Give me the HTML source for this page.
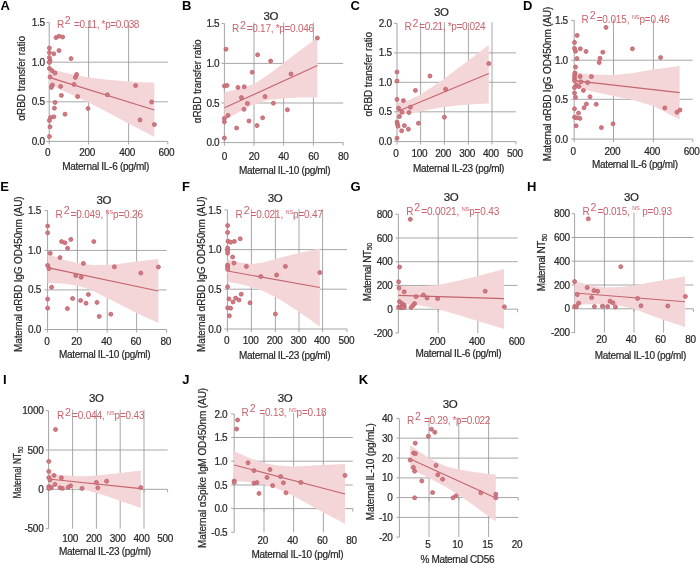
<!DOCTYPE html>
<html><head><meta charset="utf-8"><title>Figure</title>
<style>
html,body{margin:0;padding:0;background:#fff;}
body{width:700px;height:563px;overflow:hidden;}
svg{display:block;font-family:"Liberation Sans",sans-serif;filter:blur(0.35px);}
</style></head><body>
<svg width="700" height="563" viewBox="0 0 700 563">
<rect width="700" height="563" fill="#fff"/>
<line x1="49.2" y1="62.2" x2="167.8" y2="62.2" stroke="#979797" stroke-width="0.85"/>
<line x1="49.2" y1="101.8" x2="167.8" y2="101.8" stroke="#979797" stroke-width="0.85"/>
<line x1="88.6" y1="21.6" x2="88.6" y2="141.4" stroke="#979797" stroke-width="0.85"/>
<line x1="128.6" y1="21.6" x2="128.6" y2="141.4" stroke="#979797" stroke-width="0.85"/>
<line x1="49.2" y1="22.6" x2="49.2" y2="141.4" stroke="#A4A4A4" stroke-width="1"/>
<line x1="49.2" y1="141.4" x2="167.8" y2="141.4" stroke="#A4A4A4" stroke-width="1"/>
<line x1="49.2" y1="141.4" x2="49.2" y2="144.4" stroke="#A4A4A4" stroke-width="1"/>
<line x1="88.6" y1="141.4" x2="88.6" y2="144.4" stroke="#A4A4A4" stroke-width="1"/>
<line x1="128.6" y1="141.4" x2="128.6" y2="144.4" stroke="#A4A4A4" stroke-width="1"/>
<line x1="167.8" y1="141.4" x2="167.8" y2="144.4" stroke="#A4A4A4" stroke-width="1"/>
<polygon points="49.2,68.6 60.0,71.6 75.0,75.0 88.6,77.4 108.0,79.8 128.6,81.6 154.4,82.8 154.4,137.0 128.6,123.4 108.0,112.5 88.6,102.4 75.0,96.0 60.0,89.5 49.2,84.0" fill="#F4D6D8"/>
<line x1="46.2" y1="22.6" x2="49.2" y2="22.6" stroke="#A4A4A4" stroke-width="1"/>
<text transform="translate(44.80,26.15) scale(1.0,1)" font-size="10.0" text-anchor="end" fill="#262626" stroke="#262626" stroke-width="0.2" font-weight="normal" letter-spacing="-0.3">1.5</text>
<line x1="46.2" y1="62.2" x2="49.2" y2="62.2" stroke="#A4A4A4" stroke-width="1"/>
<text transform="translate(44.80,65.75) scale(1.0,1)" font-size="10.0" text-anchor="end" fill="#262626" stroke="#262626" stroke-width="0.2" font-weight="normal" letter-spacing="-0.3">1.0</text>
<line x1="46.2" y1="101.8" x2="49.2" y2="101.8" stroke="#A4A4A4" stroke-width="1"/>
<text transform="translate(44.80,105.35) scale(1.0,1)" font-size="10.0" text-anchor="end" fill="#262626" stroke="#262626" stroke-width="0.2" font-weight="normal" letter-spacing="-0.3">0.5</text>
<line x1="46.2" y1="141.4" x2="49.2" y2="141.4" stroke="#A4A4A4" stroke-width="1"/>
<text transform="translate(44.80,144.95) scale(1.0,1)" font-size="10.0" text-anchor="end" fill="#262626" stroke="#262626" stroke-width="0.2" font-weight="normal" letter-spacing="-0.3">0.0</text>
<text transform="translate(47.70,156.20) scale(1.0,1)" font-size="10.0" text-anchor="middle" fill="#262626" stroke="#262626" stroke-width="0.2" font-weight="normal" letter-spacing="-0.3">0</text>
<text transform="translate(87.10,156.20) scale(1.0,1)" font-size="10.0" text-anchor="middle" fill="#262626" stroke="#262626" stroke-width="0.2" font-weight="normal" letter-spacing="-0.3">200</text>
<text transform="translate(127.10,156.20) scale(1.0,1)" font-size="10.0" text-anchor="middle" fill="#262626" stroke="#262626" stroke-width="0.2" font-weight="normal" letter-spacing="-0.3">400</text>
<text transform="translate(166.30,156.20) scale(1.0,1)" font-size="10.0" text-anchor="middle" fill="#262626" stroke="#262626" stroke-width="0.2" font-weight="normal" letter-spacing="-0.3">600</text>
<line x1="49.2" y1="77.4" x2="154.4" y2="110" stroke="#C5646D" stroke-width="1.1"/>
<circle cx="56.0" cy="37.6" r="2.0" fill="#D07A84" stroke="#BE5F6A" stroke-width="0.8"/>
<circle cx="59.0" cy="36.2" r="2.0" fill="#D07A84" stroke="#BE5F6A" stroke-width="0.8"/>
<circle cx="62.6" cy="37.0" r="2.0" fill="#D07A84" stroke="#BE5F6A" stroke-width="0.8"/>
<circle cx="49.4" cy="48.0" r="2.0" fill="#D07A84" stroke="#BE5F6A" stroke-width="0.8"/>
<circle cx="49.4" cy="52.6" r="2.0" fill="#D07A84" stroke="#BE5F6A" stroke-width="0.8"/>
<circle cx="53.8" cy="53.8" r="2.0" fill="#D07A84" stroke="#BE5F6A" stroke-width="0.8"/>
<circle cx="59.0" cy="50.6" r="2.0" fill="#D07A84" stroke="#BE5F6A" stroke-width="0.8"/>
<circle cx="71.0" cy="58.6" r="2.0" fill="#D07A84" stroke="#BE5F6A" stroke-width="0.8"/>
<circle cx="49.4" cy="57.6" r="2.0" fill="#D07A84" stroke="#BE5F6A" stroke-width="0.8"/>
<circle cx="50.0" cy="60.6" r="2.0" fill="#D07A84" stroke="#BE5F6A" stroke-width="0.8"/>
<circle cx="49.4" cy="62.4" r="2.0" fill="#D07A84" stroke="#BE5F6A" stroke-width="0.8"/>
<circle cx="49.4" cy="68.4" r="2.0" fill="#D07A84" stroke="#BE5F6A" stroke-width="0.8"/>
<circle cx="52.0" cy="70.6" r="2.0" fill="#D07A84" stroke="#BE5F6A" stroke-width="0.8"/>
<circle cx="55.0" cy="73.0" r="2.0" fill="#D07A84" stroke="#BE5F6A" stroke-width="0.8"/>
<circle cx="50.0" cy="77.0" r="2.0" fill="#D07A84" stroke="#BE5F6A" stroke-width="0.8"/>
<circle cx="76.6" cy="74.4" r="2.0" fill="#D07A84" stroke="#BE5F6A" stroke-width="0.8"/>
<circle cx="75.4" cy="77.4" r="2.0" fill="#D07A84" stroke="#BE5F6A" stroke-width="0.8"/>
<circle cx="74.0" cy="84.4" r="2.0" fill="#D07A84" stroke="#BE5F6A" stroke-width="0.8"/>
<circle cx="52.4" cy="85.0" r="2.0" fill="#D07A84" stroke="#BE5F6A" stroke-width="0.8"/>
<circle cx="51.4" cy="87.4" r="2.0" fill="#D07A84" stroke="#BE5F6A" stroke-width="0.8"/>
<circle cx="60.6" cy="86.4" r="2.0" fill="#D07A84" stroke="#BE5F6A" stroke-width="0.8"/>
<circle cx="61.4" cy="95.4" r="2.0" fill="#D07A84" stroke="#BE5F6A" stroke-width="0.8"/>
<circle cx="77.6" cy="96.6" r="2.0" fill="#D07A84" stroke="#BE5F6A" stroke-width="0.8"/>
<circle cx="107.4" cy="94.8" r="2.0" fill="#D07A84" stroke="#BE5F6A" stroke-width="0.8"/>
<circle cx="135.6" cy="85.6" r="2.0" fill="#D07A84" stroke="#BE5F6A" stroke-width="0.8"/>
<circle cx="151.6" cy="102.0" r="2.0" fill="#D07A84" stroke="#BE5F6A" stroke-width="0.8"/>
<circle cx="55.0" cy="102.4" r="2.0" fill="#D07A84" stroke="#BE5F6A" stroke-width="0.8"/>
<circle cx="54.4" cy="108.2" r="2.0" fill="#D07A84" stroke="#BE5F6A" stroke-width="0.8"/>
<circle cx="88.0" cy="108.5" r="2.0" fill="#D07A84" stroke="#BE5F6A" stroke-width="0.8"/>
<circle cx="65.0" cy="114.2" r="2.0" fill="#D07A84" stroke="#BE5F6A" stroke-width="0.8"/>
<circle cx="53.8" cy="116.8" r="2.0" fill="#D07A84" stroke="#BE5F6A" stroke-width="0.8"/>
<circle cx="50.6" cy="117.5" r="2.0" fill="#D07A84" stroke="#BE5F6A" stroke-width="0.8"/>
<circle cx="49.4" cy="120.5" r="2.0" fill="#D07A84" stroke="#BE5F6A" stroke-width="0.8"/>
<circle cx="140.0" cy="119.9" r="2.0" fill="#D07A84" stroke="#BE5F6A" stroke-width="0.8"/>
<circle cx="154.4" cy="124.5" r="2.0" fill="#D07A84" stroke="#BE5F6A" stroke-width="0.8"/>
<circle cx="50.0" cy="126.8" r="2.0" fill="#D07A84" stroke="#BE5F6A" stroke-width="0.8"/>
<circle cx="49.4" cy="136.6" r="2.0" fill="#D07A84" stroke="#BE5F6A" stroke-width="0.8"/>
<text x="57" y="27.5" font-size="10.0" fill="#C9626B" textLength="82.4" lengthAdjust="spacing">R<tspan dy="-3.7" dx="1.0" font-size="10.6">2</tspan><tspan dy="3.7" dx="1.2">&#160;=0.11,&#160;</tspan>*p=0.038</text>
<text x="105.8" y="170.40" font-size="10.0" text-anchor="middle" fill="#262626" stroke="#262626" stroke-width="0.2" textLength="87" lengthAdjust="spacing">Maternal IL-6 (pg/ml)</text>
<text transform="translate(25.00,78.30) rotate(-90)" font-size="10.0" text-anchor="middle" fill="#262626" stroke="#262626" stroke-width="0.2" textLength="84.7" lengthAdjust="spacing">αRBD transfer ratio</text>
<text x="0.6" y="9.8" font-size="13" font-weight="bold" fill="#000">A</text>
<line x1="224.4" y1="63.4" x2="343.2" y2="63.4" stroke="#979797" stroke-width="0.85"/>
<line x1="224.4" y1="103" x2="343.2" y2="103" stroke="#979797" stroke-width="0.85"/>
<line x1="254" y1="22.6" x2="254" y2="142.6" stroke="#979797" stroke-width="0.85"/>
<line x1="283.6" y1="22.6" x2="283.6" y2="142.6" stroke="#979797" stroke-width="0.85"/>
<line x1="313.4" y1="22.6" x2="313.4" y2="142.6" stroke="#979797" stroke-width="0.85"/>
<line x1="224.4" y1="23.6" x2="224.4" y2="142.6" stroke="#A4A4A4" stroke-width="1"/>
<line x1="224.4" y1="142.6" x2="343.2" y2="142.6" stroke="#A4A4A4" stroke-width="1"/>
<line x1="224.4" y1="142.6" x2="224.4" y2="145.6" stroke="#A4A4A4" stroke-width="1"/>
<line x1="254" y1="142.6" x2="254" y2="145.6" stroke="#A4A4A4" stroke-width="1"/>
<line x1="283.6" y1="142.6" x2="283.6" y2="145.6" stroke="#A4A4A4" stroke-width="1"/>
<line x1="313.4" y1="142.6" x2="313.4" y2="145.6" stroke="#A4A4A4" stroke-width="1"/>
<line x1="343.2" y1="142.6" x2="343.2" y2="145.6" stroke="#A4A4A4" stroke-width="1"/>
<polygon points="224.4,92.4 240.0,88.5 254.0,84.0 268.0,75.0 283.6,63.0 300.0,50.5 317.4,37.6 317.4,97.4 300.0,97.6 283.6,98.4 268.0,100.0 254.0,104.5 240.0,111.5 224.4,120.0" fill="#F4D6D8"/>
<line x1="221.4" y1="23.6" x2="224.4" y2="23.6" stroke="#A4A4A4" stroke-width="1"/>
<text transform="translate(219.40,27.15) scale(1.0,1)" font-size="10.0" text-anchor="end" fill="#262626" stroke="#262626" stroke-width="0.2" font-weight="normal" letter-spacing="-0.3">1.5</text>
<line x1="221.4" y1="63.4" x2="224.4" y2="63.4" stroke="#A4A4A4" stroke-width="1"/>
<text transform="translate(219.40,66.95) scale(1.0,1)" font-size="10.0" text-anchor="end" fill="#262626" stroke="#262626" stroke-width="0.2" font-weight="normal" letter-spacing="-0.3">1.0</text>
<line x1="221.4" y1="103" x2="224.4" y2="103" stroke="#A4A4A4" stroke-width="1"/>
<text transform="translate(219.40,106.55) scale(1.0,1)" font-size="10.0" text-anchor="end" fill="#262626" stroke="#262626" stroke-width="0.2" font-weight="normal" letter-spacing="-0.3">0.5</text>
<line x1="221.4" y1="142.6" x2="224.4" y2="142.6" stroke="#A4A4A4" stroke-width="1"/>
<text transform="translate(219.40,146.15) scale(1.0,1)" font-size="10.0" text-anchor="end" fill="#262626" stroke="#262626" stroke-width="0.2" font-weight="normal" letter-spacing="-0.3">0.0</text>
<text transform="translate(224.40,159.50) scale(1.0,1)" font-size="10.0" text-anchor="middle" fill="#262626" stroke="#262626" stroke-width="0.2" font-weight="normal" letter-spacing="-0.3">0</text>
<text transform="translate(254.00,159.50) scale(1.0,1)" font-size="10.0" text-anchor="middle" fill="#262626" stroke="#262626" stroke-width="0.2" font-weight="normal" letter-spacing="-0.3">20</text>
<text transform="translate(283.60,159.50) scale(1.0,1)" font-size="10.0" text-anchor="middle" fill="#262626" stroke="#262626" stroke-width="0.2" font-weight="normal" letter-spacing="-0.3">40</text>
<text transform="translate(313.40,159.50) scale(1.0,1)" font-size="10.0" text-anchor="middle" fill="#262626" stroke="#262626" stroke-width="0.2" font-weight="normal" letter-spacing="-0.3">60</text>
<text transform="translate(343.20,159.50) scale(1.0,1)" font-size="10.0" text-anchor="middle" fill="#262626" stroke="#262626" stroke-width="0.2" font-weight="normal" letter-spacing="-0.3">80</text>
<line x1="224.4" y1="107.8" x2="317.4" y2="65.6" stroke="#C5646D" stroke-width="1.1"/>
<circle cx="317.4" cy="38.0" r="2.0" fill="#D07A84" stroke="#BE5F6A" stroke-width="0.8"/>
<circle cx="226.0" cy="49.2" r="2.0" fill="#D07A84" stroke="#BE5F6A" stroke-width="0.8"/>
<circle cx="257.6" cy="54.8" r="2.0" fill="#D07A84" stroke="#BE5F6A" stroke-width="0.8"/>
<circle cx="270.6" cy="61.0" r="2.0" fill="#D07A84" stroke="#BE5F6A" stroke-width="0.8"/>
<circle cx="252.2" cy="72.2" r="2.0" fill="#D07A84" stroke="#BE5F6A" stroke-width="0.8"/>
<circle cx="291.0" cy="74.0" r="2.0" fill="#D07A84" stroke="#BE5F6A" stroke-width="0.8"/>
<circle cx="224.4" cy="86.0" r="2.0" fill="#D07A84" stroke="#BE5F6A" stroke-width="0.8"/>
<circle cx="227.0" cy="85.4" r="2.0" fill="#D07A84" stroke="#BE5F6A" stroke-width="0.8"/>
<circle cx="238.0" cy="87.4" r="2.0" fill="#D07A84" stroke="#BE5F6A" stroke-width="0.8"/>
<circle cx="244.2" cy="86.8" r="2.0" fill="#D07A84" stroke="#BE5F6A" stroke-width="0.8"/>
<circle cx="241.4" cy="97.6" r="2.0" fill="#D07A84" stroke="#BE5F6A" stroke-width="0.8"/>
<circle cx="265.0" cy="96.6" r="2.0" fill="#D07A84" stroke="#BE5F6A" stroke-width="0.8"/>
<circle cx="247.4" cy="103.4" r="2.0" fill="#D07A84" stroke="#BE5F6A" stroke-width="0.8"/>
<circle cx="273.4" cy="103.2" r="2.0" fill="#D07A84" stroke="#BE5F6A" stroke-width="0.8"/>
<circle cx="244.0" cy="109.3" r="2.0" fill="#D07A84" stroke="#BE5F6A" stroke-width="0.8"/>
<circle cx="287.4" cy="109.8" r="2.0" fill="#D07A84" stroke="#BE5F6A" stroke-width="0.8"/>
<circle cx="228.0" cy="115.4" r="2.0" fill="#D07A84" stroke="#BE5F6A" stroke-width="0.8"/>
<circle cx="224.4" cy="118.4" r="2.0" fill="#D07A84" stroke="#BE5F6A" stroke-width="0.8"/>
<circle cx="262.6" cy="117.8" r="2.0" fill="#D07A84" stroke="#BE5F6A" stroke-width="0.8"/>
<circle cx="224.4" cy="121.8" r="2.0" fill="#D07A84" stroke="#BE5F6A" stroke-width="0.8"/>
<circle cx="249.0" cy="121.0" r="2.0" fill="#D07A84" stroke="#BE5F6A" stroke-width="0.8"/>
<circle cx="257.0" cy="125.6" r="2.0" fill="#D07A84" stroke="#BE5F6A" stroke-width="0.8"/>
<circle cx="236.6" cy="128.0" r="2.0" fill="#D07A84" stroke="#BE5F6A" stroke-width="0.8"/>
<circle cx="224.4" cy="138.0" r="2.0" fill="#D07A84" stroke="#BE5F6A" stroke-width="0.8"/>
<text transform="translate(270.80,20.00) scale(1.0,1)" font-size="11.5" text-anchor="middle" fill="#262626" stroke="#262626" stroke-width="0.2" font-weight="normal" letter-spacing="-0.3">3O</text>
<text x="232" y="32.4" font-size="10.0" fill="#C9626B" textLength="82.0" lengthAdjust="spacing">R<tspan dy="-3.7" dx="1.0" font-size="10.6">2</tspan><tspan dy="3.7" dx="1.2">=0.17,&#160;</tspan>*p=0.046</text>
<text x="284.8" y="173.90" font-size="10.0" text-anchor="middle" fill="#262626" stroke="#262626" stroke-width="0.2" textLength="91.6" lengthAdjust="spacing">Maternal IL-10 (pg/ml)</text>
<text transform="translate(201.00,81.30) rotate(-90)" font-size="10.0" text-anchor="middle" fill="#262626" stroke="#262626" stroke-width="0.2" textLength="83.8" lengthAdjust="spacing">αRBD transfer ratio</text>
<text x="182" y="10" font-size="13" font-weight="bold" fill="#000">B</text>
<line x1="397" y1="52.9" x2="516" y2="52.9" stroke="#979797" stroke-width="0.85"/>
<line x1="397" y1="82.3" x2="516" y2="82.3" stroke="#979797" stroke-width="0.85"/>
<line x1="397" y1="111.8" x2="516" y2="111.8" stroke="#979797" stroke-width="0.85"/>
<line x1="420.6" y1="22.4" x2="420.6" y2="141.6" stroke="#979797" stroke-width="0.85"/>
<line x1="444.4" y1="22.4" x2="444.4" y2="141.6" stroke="#979797" stroke-width="0.85"/>
<line x1="468.4" y1="22.4" x2="468.4" y2="141.6" stroke="#979797" stroke-width="0.85"/>
<line x1="492" y1="22.4" x2="492" y2="141.6" stroke="#979797" stroke-width="0.85"/>
<line x1="397" y1="23.4" x2="397" y2="141.6" stroke="#A4A4A4" stroke-width="1"/>
<line x1="397" y1="141.6" x2="516" y2="141.6" stroke="#A4A4A4" stroke-width="1"/>
<line x1="397" y1="141.6" x2="397" y2="144.6" stroke="#A4A4A4" stroke-width="1"/>
<line x1="420.6" y1="141.6" x2="420.6" y2="144.6" stroke="#A4A4A4" stroke-width="1"/>
<line x1="444.4" y1="141.6" x2="444.4" y2="144.6" stroke="#A4A4A4" stroke-width="1"/>
<line x1="468.4" y1="141.6" x2="468.4" y2="144.6" stroke="#A4A4A4" stroke-width="1"/>
<line x1="492" y1="141.6" x2="492" y2="144.6" stroke="#A4A4A4" stroke-width="1"/>
<line x1="516" y1="141.6" x2="516" y2="144.6" stroke="#A4A4A4" stroke-width="1"/>
<polygon points="397.3,102.5 408.0,100.5 420.6,94.5 432.0,87.0 444.4,78.6 468.4,60.5 488.8,45.0 488.8,103.4 468.4,104.4 444.4,107.0 432.0,109.0 420.6,111.4 408.0,113.6 397.3,116.0" fill="#F4D6D8"/>
<line x1="394" y1="23.4" x2="397" y2="23.4" stroke="#A4A4A4" stroke-width="1"/>
<text transform="translate(391.80,26.95) scale(1.0,1)" font-size="10.0" text-anchor="end" fill="#262626" stroke="#262626" stroke-width="0.2" font-weight="normal" letter-spacing="-0.3">2.0</text>
<line x1="394" y1="52.9" x2="397" y2="52.9" stroke="#A4A4A4" stroke-width="1"/>
<text transform="translate(391.80,56.45) scale(1.0,1)" font-size="10.0" text-anchor="end" fill="#262626" stroke="#262626" stroke-width="0.2" font-weight="normal" letter-spacing="-0.3">1.5</text>
<line x1="394" y1="82.3" x2="397" y2="82.3" stroke="#A4A4A4" stroke-width="1"/>
<text transform="translate(391.80,85.85) scale(1.0,1)" font-size="10.0" text-anchor="end" fill="#262626" stroke="#262626" stroke-width="0.2" font-weight="normal" letter-spacing="-0.3">1.0</text>
<line x1="394" y1="111.8" x2="397" y2="111.8" stroke="#A4A4A4" stroke-width="1"/>
<text transform="translate(391.80,115.35) scale(1.0,1)" font-size="10.0" text-anchor="end" fill="#262626" stroke="#262626" stroke-width="0.2" font-weight="normal" letter-spacing="-0.3">0.5</text>
<line x1="394" y1="141.3" x2="397" y2="141.3" stroke="#A4A4A4" stroke-width="1"/>
<text transform="translate(391.80,144.85) scale(1.0,1)" font-size="10.0" text-anchor="end" fill="#262626" stroke="#262626" stroke-width="0.2" font-weight="normal" letter-spacing="-0.3">0.0</text>
<text transform="translate(395.80,156.50) scale(1.0,1)" font-size="10.0" text-anchor="middle" fill="#262626" stroke="#262626" stroke-width="0.2" font-weight="normal" letter-spacing="-0.3">0</text>
<text transform="translate(419.40,156.50) scale(1.0,1)" font-size="10.0" text-anchor="middle" fill="#262626" stroke="#262626" stroke-width="0.2" font-weight="normal" letter-spacing="-0.3">100</text>
<text transform="translate(443.20,156.50) scale(1.0,1)" font-size="10.0" text-anchor="middle" fill="#262626" stroke="#262626" stroke-width="0.2" font-weight="normal" letter-spacing="-0.3">200</text>
<text transform="translate(467.20,156.50) scale(1.0,1)" font-size="10.0" text-anchor="middle" fill="#262626" stroke="#262626" stroke-width="0.2" font-weight="normal" letter-spacing="-0.3">300</text>
<text transform="translate(490.80,156.50) scale(1.0,1)" font-size="10.0" text-anchor="middle" fill="#262626" stroke="#262626" stroke-width="0.2" font-weight="normal" letter-spacing="-0.3">400</text>
<text transform="translate(514.80,156.50) scale(1.0,1)" font-size="10.0" text-anchor="middle" fill="#262626" stroke="#262626" stroke-width="0.2" font-weight="normal" letter-spacing="-0.3">500</text>
<line x1="397.3" y1="111.6" x2="488.8" y2="73.6" stroke="#C5646D" stroke-width="1.1"/>
<circle cx="488.8" cy="63.6" r="2.0" fill="#D07A84" stroke="#BE5F6A" stroke-width="0.8"/>
<circle cx="397.0" cy="72.0" r="2.0" fill="#D07A84" stroke="#BE5F6A" stroke-width="0.8"/>
<circle cx="430.0" cy="76.0" r="2.0" fill="#D07A84" stroke="#BE5F6A" stroke-width="0.8"/>
<circle cx="397.0" cy="81.0" r="2.0" fill="#D07A84" stroke="#BE5F6A" stroke-width="0.8"/>
<circle cx="415.4" cy="90.4" r="2.0" fill="#D07A84" stroke="#BE5F6A" stroke-width="0.8"/>
<circle cx="445.6" cy="89.2" r="2.0" fill="#D07A84" stroke="#BE5F6A" stroke-width="0.8"/>
<circle cx="397.0" cy="99.4" r="2.0" fill="#D07A84" stroke="#BE5F6A" stroke-width="0.8"/>
<circle cx="403.4" cy="100.6" r="2.0" fill="#D07A84" stroke="#BE5F6A" stroke-width="0.8"/>
<circle cx="398.6" cy="108.2" r="2.0" fill="#D07A84" stroke="#BE5F6A" stroke-width="0.8"/>
<circle cx="410.4" cy="107.2" r="2.0" fill="#D07A84" stroke="#BE5F6A" stroke-width="0.8"/>
<circle cx="402.0" cy="112.2" r="2.0" fill="#D07A84" stroke="#BE5F6A" stroke-width="0.8"/>
<circle cx="409.0" cy="112.6" r="2.0" fill="#D07A84" stroke="#BE5F6A" stroke-width="0.8"/>
<circle cx="399.4" cy="116.6" r="2.0" fill="#D07A84" stroke="#BE5F6A" stroke-width="0.8"/>
<circle cx="444.4" cy="117.2" r="2.0" fill="#D07A84" stroke="#BE5F6A" stroke-width="0.8"/>
<circle cx="397.0" cy="122.0" r="2.0" fill="#D07A84" stroke="#BE5F6A" stroke-width="0.8"/>
<circle cx="397.4" cy="124.0" r="2.0" fill="#D07A84" stroke="#BE5F6A" stroke-width="0.8"/>
<circle cx="398.0" cy="126.2" r="2.0" fill="#D07A84" stroke="#BE5F6A" stroke-width="0.8"/>
<circle cx="404.4" cy="125.6" r="2.0" fill="#D07A84" stroke="#BE5F6A" stroke-width="0.8"/>
<circle cx="418.4" cy="123.2" r="2.0" fill="#D07A84" stroke="#BE5F6A" stroke-width="0.8"/>
<circle cx="401.6" cy="130.8" r="2.0" fill="#D07A84" stroke="#BE5F6A" stroke-width="0.8"/>
<circle cx="408.4" cy="129.2" r="2.0" fill="#D07A84" stroke="#BE5F6A" stroke-width="0.8"/>
<circle cx="397.0" cy="138.2" r="2.0" fill="#D07A84" stroke="#BE5F6A" stroke-width="0.8"/>
<text transform="translate(441.30,15.50) scale(1.0,1)" font-size="11.5" text-anchor="middle" fill="#262626" stroke="#262626" stroke-width="0.2" font-weight="normal" letter-spacing="-0.3">3O</text>
<text x="404.6" y="30.4" font-size="10.0" fill="#C9626B" textLength="81.0" lengthAdjust="spacing">R<tspan dy="-3.7" dx="1.0" font-size="10.6">2</tspan><tspan dy="3.7" dx="1.2">=0.21,&#160;</tspan>*p=0.024</text>
<text x="458.7" y="172.40" font-size="10.0" text-anchor="middle" fill="#262626" stroke="#262626" stroke-width="0.2" textLength="91.4" lengthAdjust="spacing">Maternal IL-23 (pg/ml)</text>
<text transform="translate(372.40,74.20) rotate(-90)" font-size="10.0" text-anchor="middle" fill="#262626" stroke="#262626" stroke-width="0.2" textLength="84.6" lengthAdjust="spacing">αRBD transfer ratio</text>
<text x="350.4" y="10.2" font-size="13" font-weight="bold" fill="#000">C</text>
<line x1="574.2" y1="60.2" x2="692.8" y2="60.2" stroke="#979797" stroke-width="0.85"/>
<line x1="574.2" y1="99.3" x2="692.8" y2="99.3" stroke="#979797" stroke-width="0.85"/>
<line x1="613.5" y1="19.4" x2="613.5" y2="139.1" stroke="#979797" stroke-width="0.85"/>
<line x1="653.4" y1="19.4" x2="653.4" y2="139.1" stroke="#979797" stroke-width="0.85"/>
<line x1="574.2" y1="20.4" x2="574.2" y2="139.1" stroke="#A4A4A4" stroke-width="1"/>
<line x1="574.2" y1="139.1" x2="692.8" y2="139.1" stroke="#A4A4A4" stroke-width="1"/>
<line x1="574.2" y1="139.1" x2="574.2" y2="142.1" stroke="#A4A4A4" stroke-width="1"/>
<line x1="613.5" y1="139.1" x2="613.5" y2="142.1" stroke="#A4A4A4" stroke-width="1"/>
<line x1="653.4" y1="139.1" x2="653.4" y2="142.1" stroke="#A4A4A4" stroke-width="1"/>
<line x1="692.8" y1="139.1" x2="692.8" y2="142.1" stroke="#A4A4A4" stroke-width="1"/>
<polygon points="574.2,72.0 590.0,74.6 613.4,75.0 633.0,73.0 653.4,69.4 679.6,66.0 679.6,119.4 653.4,106.0 633.0,100.0 613.4,96.0 590.0,91.0 574.2,86.6" fill="#F4D6D8"/>
<line x1="571.2" y1="20.4" x2="574.2" y2="20.4" stroke="#A4A4A4" stroke-width="1"/>
<text transform="translate(567.90,23.95) scale(1.0,1)" font-size="10.0" text-anchor="end" fill="#262626" stroke="#262626" stroke-width="0.2" font-weight="normal" letter-spacing="-0.3">1.5</text>
<line x1="571.2" y1="60.2" x2="574.2" y2="60.2" stroke="#A4A4A4" stroke-width="1"/>
<text transform="translate(567.90,63.75) scale(1.0,1)" font-size="10.0" text-anchor="end" fill="#262626" stroke="#262626" stroke-width="0.2" font-weight="normal" letter-spacing="-0.3">1.0</text>
<line x1="571.2" y1="99.3" x2="574.2" y2="99.3" stroke="#A4A4A4" stroke-width="1"/>
<text transform="translate(567.90,102.85) scale(1.0,1)" font-size="10.0" text-anchor="end" fill="#262626" stroke="#262626" stroke-width="0.2" font-weight="normal" letter-spacing="-0.3">0.5</text>
<line x1="571.2" y1="139" x2="574.2" y2="139" stroke="#A4A4A4" stroke-width="1"/>
<text transform="translate(567.90,142.55) scale(1.0,1)" font-size="10.0" text-anchor="end" fill="#262626" stroke="#262626" stroke-width="0.2" font-weight="normal" letter-spacing="-0.3">0.0</text>
<text transform="translate(573.00,154.50) scale(1.0,1)" font-size="10.0" text-anchor="middle" fill="#262626" stroke="#262626" stroke-width="0.2" font-weight="normal" letter-spacing="-0.3">0</text>
<text transform="translate(612.30,154.50) scale(1.0,1)" font-size="10.0" text-anchor="middle" fill="#262626" stroke="#262626" stroke-width="0.2" font-weight="normal" letter-spacing="-0.3">200</text>
<text transform="translate(652.20,154.50) scale(1.0,1)" font-size="10.0" text-anchor="middle" fill="#262626" stroke="#262626" stroke-width="0.2" font-weight="normal" letter-spacing="-0.3">400</text>
<text transform="translate(691.60,154.50) scale(1.0,1)" font-size="10.0" text-anchor="middle" fill="#262626" stroke="#262626" stroke-width="0.2" font-weight="normal" letter-spacing="-0.3">600</text>
<line x1="574.2" y1="80.6" x2="679.6" y2="92.6" stroke="#C5646D" stroke-width="1.1"/>
<circle cx="606.0" cy="27.4" r="2.0" fill="#D07A84" stroke="#BE5F6A" stroke-width="0.8"/>
<circle cx="577.1" cy="35.4" r="2.0" fill="#D07A84" stroke="#BE5F6A" stroke-width="0.8"/>
<circle cx="574.5" cy="42.4" r="2.0" fill="#D07A84" stroke="#BE5F6A" stroke-width="0.8"/>
<circle cx="574.5" cy="48.4" r="2.0" fill="#D07A84" stroke="#BE5F6A" stroke-width="0.8"/>
<circle cx="580.3" cy="48.8" r="2.0" fill="#D07A84" stroke="#BE5F6A" stroke-width="0.8"/>
<circle cx="575.5" cy="51.2" r="2.0" fill="#D07A84" stroke="#BE5F6A" stroke-width="0.8"/>
<circle cx="586.0" cy="51.4" r="2.0" fill="#D07A84" stroke="#BE5F6A" stroke-width="0.8"/>
<circle cx="602.8" cy="52.2" r="2.0" fill="#D07A84" stroke="#BE5F6A" stroke-width="0.8"/>
<circle cx="632.4" cy="48.8" r="2.0" fill="#D07A84" stroke="#BE5F6A" stroke-width="0.8"/>
<circle cx="576.9" cy="58.6" r="2.0" fill="#D07A84" stroke="#BE5F6A" stroke-width="0.8"/>
<circle cx="600.0" cy="58.2" r="2.0" fill="#D07A84" stroke="#BE5F6A" stroke-width="0.8"/>
<circle cx="660.6" cy="57.6" r="2.0" fill="#D07A84" stroke="#BE5F6A" stroke-width="0.8"/>
<circle cx="599.2" cy="62.6" r="2.0" fill="#D07A84" stroke="#BE5F6A" stroke-width="0.8"/>
<circle cx="575.5" cy="67.0" r="2.0" fill="#D07A84" stroke="#BE5F6A" stroke-width="0.8"/>
<circle cx="574.9" cy="73.0" r="2.0" fill="#D07A84" stroke="#BE5F6A" stroke-width="0.8"/>
<circle cx="574.5" cy="75.4" r="2.0" fill="#D07A84" stroke="#BE5F6A" stroke-width="0.8"/>
<circle cx="574.5" cy="78.0" r="2.0" fill="#D07A84" stroke="#BE5F6A" stroke-width="0.8"/>
<circle cx="574.5" cy="80.6" r="2.0" fill="#D07A84" stroke="#BE5F6A" stroke-width="0.8"/>
<circle cx="580.1" cy="76.4" r="2.0" fill="#D07A84" stroke="#BE5F6A" stroke-width="0.8"/>
<circle cx="591.4" cy="76.6" r="2.0" fill="#D07A84" stroke="#BE5F6A" stroke-width="0.8"/>
<circle cx="580.9" cy="81.8" r="2.0" fill="#D07A84" stroke="#BE5F6A" stroke-width="0.8"/>
<circle cx="587.6" cy="82.6" r="2.0" fill="#D07A84" stroke="#BE5F6A" stroke-width="0.8"/>
<circle cx="576.5" cy="85.0" r="2.0" fill="#D07A84" stroke="#BE5F6A" stroke-width="0.8"/>
<circle cx="578.9" cy="86.6" r="2.0" fill="#D07A84" stroke="#BE5F6A" stroke-width="0.8"/>
<circle cx="574.5" cy="87.6" r="2.0" fill="#D07A84" stroke="#BE5F6A" stroke-width="0.8"/>
<circle cx="583.4" cy="90.4" r="2.0" fill="#D07A84" stroke="#BE5F6A" stroke-width="0.8"/>
<circle cx="574.5" cy="93.0" r="2.0" fill="#D07A84" stroke="#BE5F6A" stroke-width="0.8"/>
<circle cx="575.5" cy="97.2" r="2.0" fill="#D07A84" stroke="#BE5F6A" stroke-width="0.8"/>
<circle cx="590.0" cy="96.8" r="2.0" fill="#D07A84" stroke="#BE5F6A" stroke-width="0.8"/>
<circle cx="586.4" cy="104.0" r="2.0" fill="#D07A84" stroke="#BE5F6A" stroke-width="0.8"/>
<circle cx="596.2" cy="104.3" r="2.0" fill="#D07A84" stroke="#BE5F6A" stroke-width="0.8"/>
<circle cx="584.0" cy="107.8" r="2.0" fill="#D07A84" stroke="#BE5F6A" stroke-width="0.8"/>
<circle cx="574.5" cy="108.8" r="2.0" fill="#D07A84" stroke="#BE5F6A" stroke-width="0.8"/>
<circle cx="664.8" cy="107.9" r="2.0" fill="#D07A84" stroke="#BE5F6A" stroke-width="0.8"/>
<circle cx="680.0" cy="110.0" r="2.0" fill="#D07A84" stroke="#BE5F6A" stroke-width="0.8"/>
<circle cx="677.0" cy="112.2" r="2.0" fill="#D07A84" stroke="#BE5F6A" stroke-width="0.8"/>
<circle cx="578.5" cy="113.1" r="2.0" fill="#D07A84" stroke="#BE5F6A" stroke-width="0.8"/>
<circle cx="574.5" cy="117.2" r="2.0" fill="#D07A84" stroke="#BE5F6A" stroke-width="0.8"/>
<circle cx="576.5" cy="117.8" r="2.0" fill="#D07A84" stroke="#BE5F6A" stroke-width="0.8"/>
<circle cx="579.9" cy="118.4" r="2.0" fill="#D07A84" stroke="#BE5F6A" stroke-width="0.8"/>
<circle cx="613.0" cy="123.8" r="2.0" fill="#D07A84" stroke="#BE5F6A" stroke-width="0.8"/>
<circle cx="576.1" cy="125.8" r="2.0" fill="#D07A84" stroke="#BE5F6A" stroke-width="0.8"/>
<circle cx="601.4" cy="127.6" r="2.0" fill="#D07A84" stroke="#BE5F6A" stroke-width="0.8"/>
<text x="581.6" y="23" font-size="10.0" fill="#C9626B" textLength="88.0" lengthAdjust="spacing">R<tspan dy="-3.7" dx="1.0" font-size="10.6">2</tspan><tspan dy="3.7" dx="1.2">=0.015,&#160;</tspan><tspan font-size="5.6" dy="-4.1">NS</tspan><tspan dy="4.1">p=0.46</tspan></text>
<text x="635" y="167.90" font-size="10.0" text-anchor="middle" fill="#262626" stroke="#262626" stroke-width="0.2" textLength="86" lengthAdjust="spacing">Maternal IL-6 (pg/ml)</text>
<text transform="translate(551.00,84.00) rotate(-90)" font-size="10.0" text-anchor="middle" fill="#262626" stroke="#262626" stroke-width="0.2" textLength="154.6" lengthAdjust="spacing">Maternal αRBD IgG OD450nm (AU)</text>
<text x="523" y="10" font-size="13" font-weight="bold" fill="#000">D</text>
<line x1="47.6" y1="250.4" x2="166.6" y2="250.4" stroke="#979797" stroke-width="0.85"/>
<line x1="47.6" y1="289.9" x2="166.6" y2="289.9" stroke="#979797" stroke-width="0.85"/>
<line x1="77.4" y1="209.6" x2="77.4" y2="329.5" stroke="#979797" stroke-width="0.85"/>
<line x1="107.2" y1="209.6" x2="107.2" y2="329.5" stroke="#979797" stroke-width="0.85"/>
<line x1="136.6" y1="209.6" x2="136.6" y2="329.5" stroke="#979797" stroke-width="0.85"/>
<line x1="47.6" y1="210.6" x2="47.6" y2="329.5" stroke="#A4A4A4" stroke-width="1"/>
<line x1="47.6" y1="329.5" x2="166.6" y2="329.5" stroke="#A4A4A4" stroke-width="1"/>
<line x1="47.6" y1="329.5" x2="47.6" y2="332.5" stroke="#A4A4A4" stroke-width="1"/>
<line x1="77.4" y1="329.5" x2="77.4" y2="332.5" stroke="#A4A4A4" stroke-width="1"/>
<line x1="107.2" y1="329.5" x2="107.2" y2="332.5" stroke="#A4A4A4" stroke-width="1"/>
<line x1="136.6" y1="329.5" x2="136.6" y2="332.5" stroke="#A4A4A4" stroke-width="1"/>
<line x1="166.6" y1="329.5" x2="166.6" y2="332.5" stroke="#A4A4A4" stroke-width="1"/>
<polygon points="47.6,253.8 62.0,259.2 77.4,263.0 92.0,265.0 107.2,265.0 122.0,263.6 136.6,261.6 158.4,259.0 158.4,323.0 136.6,313.0 122.0,305.5 107.2,298.0 92.0,290.5 77.4,285.5 62.0,283.5 47.6,283.0" fill="#F4D6D8"/>
<line x1="44.6" y1="210.6" x2="47.6" y2="210.6" stroke="#A4A4A4" stroke-width="1"/>
<text transform="translate(41.10,214.15) scale(1.0,1)" font-size="10.0" text-anchor="end" fill="#262626" stroke="#262626" stroke-width="0.2" font-weight="normal" letter-spacing="-0.3">1.5</text>
<line x1="44.6" y1="250.4" x2="47.6" y2="250.4" stroke="#A4A4A4" stroke-width="1"/>
<text transform="translate(41.10,253.95) scale(1.0,1)" font-size="10.0" text-anchor="end" fill="#262626" stroke="#262626" stroke-width="0.2" font-weight="normal" letter-spacing="-0.3">1.0</text>
<line x1="44.6" y1="289.9" x2="47.6" y2="289.9" stroke="#A4A4A4" stroke-width="1"/>
<text transform="translate(41.10,293.45) scale(1.0,1)" font-size="10.0" text-anchor="end" fill="#262626" stroke="#262626" stroke-width="0.2" font-weight="normal" letter-spacing="-0.3">0.5</text>
<line x1="44.6" y1="329.5" x2="47.6" y2="329.5" stroke="#A4A4A4" stroke-width="1"/>
<text transform="translate(41.10,333.05) scale(1.0,1)" font-size="10.0" text-anchor="end" fill="#262626" stroke="#262626" stroke-width="0.2" font-weight="normal" letter-spacing="-0.3">0.0</text>
<text transform="translate(46.80,344.90) scale(1.0,1)" font-size="10.0" text-anchor="middle" fill="#262626" stroke="#262626" stroke-width="0.2" font-weight="normal" letter-spacing="-0.3">0</text>
<text transform="translate(76.60,344.90) scale(1.0,1)" font-size="10.0" text-anchor="middle" fill="#262626" stroke="#262626" stroke-width="0.2" font-weight="normal" letter-spacing="-0.3">20</text>
<text transform="translate(106.40,344.90) scale(1.0,1)" font-size="10.0" text-anchor="middle" fill="#262626" stroke="#262626" stroke-width="0.2" font-weight="normal" letter-spacing="-0.3">40</text>
<text transform="translate(135.80,344.90) scale(1.0,1)" font-size="10.0" text-anchor="middle" fill="#262626" stroke="#262626" stroke-width="0.2" font-weight="normal" letter-spacing="-0.3">60</text>
<text transform="translate(165.80,344.90) scale(1.0,1)" font-size="10.0" text-anchor="middle" fill="#262626" stroke="#262626" stroke-width="0.2" font-weight="normal" letter-spacing="-0.3">80</text>
<line x1="47.6" y1="267.6" x2="158.4" y2="291" stroke="#C5646D" stroke-width="1.1"/>
<circle cx="47.6" cy="226.0" r="2.0" fill="#D07A84" stroke="#BE5F6A" stroke-width="0.8"/>
<circle cx="47.6" cy="232.8" r="2.0" fill="#D07A84" stroke="#BE5F6A" stroke-width="0.8"/>
<circle cx="61.6" cy="241.6" r="2.0" fill="#D07A84" stroke="#BE5F6A" stroke-width="0.8"/>
<circle cx="65.0" cy="242.8" r="2.0" fill="#D07A84" stroke="#BE5F6A" stroke-width="0.8"/>
<circle cx="70.8" cy="239.4" r="2.0" fill="#D07A84" stroke="#BE5F6A" stroke-width="0.8"/>
<circle cx="93.8" cy="241.6" r="2.0" fill="#D07A84" stroke="#BE5F6A" stroke-width="0.8"/>
<circle cx="67.6" cy="248.2" r="2.0" fill="#D07A84" stroke="#BE5F6A" stroke-width="0.8"/>
<circle cx="50.2" cy="253.2" r="2.0" fill="#D07A84" stroke="#BE5F6A" stroke-width="0.8"/>
<circle cx="60.0" cy="257.6" r="2.0" fill="#D07A84" stroke="#BE5F6A" stroke-width="0.8"/>
<circle cx="83.4" cy="263.4" r="2.0" fill="#D07A84" stroke="#BE5F6A" stroke-width="0.8"/>
<circle cx="47.6" cy="265.4" r="2.0" fill="#D07A84" stroke="#BE5F6A" stroke-width="0.8"/>
<circle cx="49.0" cy="268.6" r="2.0" fill="#D07A84" stroke="#BE5F6A" stroke-width="0.8"/>
<circle cx="114.4" cy="266.8" r="2.0" fill="#D07A84" stroke="#BE5F6A" stroke-width="0.8"/>
<circle cx="158.4" cy="267.0" r="2.0" fill="#D07A84" stroke="#BE5F6A" stroke-width="0.8"/>
<circle cx="140.8" cy="273.0" r="2.0" fill="#D07A84" stroke="#BE5F6A" stroke-width="0.8"/>
<circle cx="75.8" cy="275.6" r="2.0" fill="#D07A84" stroke="#BE5F6A" stroke-width="0.8"/>
<circle cx="81.2" cy="277.2" r="2.0" fill="#D07A84" stroke="#BE5F6A" stroke-width="0.8"/>
<circle cx="51.6" cy="287.2" r="2.0" fill="#D07A84" stroke="#BE5F6A" stroke-width="0.8"/>
<circle cx="88.4" cy="294.5" r="2.0" fill="#D07A84" stroke="#BE5F6A" stroke-width="0.8"/>
<circle cx="47.6" cy="299.1" r="2.0" fill="#D07A84" stroke="#BE5F6A" stroke-width="0.8"/>
<circle cx="72.6" cy="298.5" r="2.0" fill="#D07A84" stroke="#BE5F6A" stroke-width="0.8"/>
<circle cx="80.6" cy="300.5" r="2.0" fill="#D07A84" stroke="#BE5F6A" stroke-width="0.8"/>
<circle cx="97.0" cy="302.4" r="2.0" fill="#D07A84" stroke="#BE5F6A" stroke-width="0.8"/>
<circle cx="86.0" cy="303.2" r="2.0" fill="#D07A84" stroke="#BE5F6A" stroke-width="0.8"/>
<circle cx="47.6" cy="308.2" r="2.0" fill="#D07A84" stroke="#BE5F6A" stroke-width="0.8"/>
<circle cx="67.4" cy="308.6" r="2.0" fill="#D07A84" stroke="#BE5F6A" stroke-width="0.8"/>
<circle cx="110.8" cy="314.2" r="2.0" fill="#D07A84" stroke="#BE5F6A" stroke-width="0.8"/>
<circle cx="99.2" cy="316.4" r="2.0" fill="#D07A84" stroke="#BE5F6A" stroke-width="0.8"/>
<text transform="translate(103.80,204.00) scale(1.0,1)" font-size="11.5" text-anchor="middle" fill="#262626" stroke="#262626" stroke-width="0.2" font-weight="normal" letter-spacing="-0.3">3O</text>
<text x="55.6" y="218" font-size="10.0" fill="#C9626B" textLength="87.4" lengthAdjust="spacing">R<tspan dy="-3.7" dx="1.0" font-size="10.6">2</tspan><tspan dy="3.7" dx="1.2">=0.049,&#160;</tspan><tspan font-size="5.6" dy="-4.1">NS</tspan><tspan dy="4.1">p=0.26</tspan></text>
<text x="104.8" y="358.30" font-size="10.0" text-anchor="middle" fill="#262626" stroke="#262626" stroke-width="0.2" textLength="91.6" lengthAdjust="spacing">Maternal IL-10 (pg/ml)</text>
<text transform="translate(22.20,274.20) rotate(-90)" font-size="10.0" text-anchor="middle" fill="#262626" stroke="#262626" stroke-width="0.2" textLength="155.6" lengthAdjust="spacing">Maternal αRBD IgG OD450nm (AU)</text>
<text x="0.3" y="190.8" font-size="13" font-weight="bold" fill="#000">E</text>
<line x1="227.4" y1="249.6" x2="347" y2="249.6" stroke="#979797" stroke-width="0.85"/>
<line x1="227.4" y1="289.2" x2="347" y2="289.2" stroke="#979797" stroke-width="0.85"/>
<line x1="251.4" y1="209" x2="251.4" y2="329" stroke="#979797" stroke-width="0.85"/>
<line x1="275.4" y1="209" x2="275.4" y2="329" stroke="#979797" stroke-width="0.85"/>
<line x1="299" y1="209" x2="299" y2="329" stroke="#979797" stroke-width="0.85"/>
<line x1="322.6" y1="209" x2="322.6" y2="329" stroke="#979797" stroke-width="0.85"/>
<line x1="227.4" y1="210" x2="227.4" y2="329" stroke="#A4A4A4" stroke-width="1"/>
<line x1="227.4" y1="329" x2="347" y2="329" stroke="#A4A4A4" stroke-width="1"/>
<line x1="227.4" y1="329" x2="227.4" y2="332" stroke="#A4A4A4" stroke-width="1"/>
<line x1="251.4" y1="329" x2="251.4" y2="332" stroke="#A4A4A4" stroke-width="1"/>
<line x1="275.4" y1="329" x2="275.4" y2="332" stroke="#A4A4A4" stroke-width="1"/>
<line x1="299" y1="329" x2="299" y2="332" stroke="#A4A4A4" stroke-width="1"/>
<line x1="322.6" y1="329" x2="322.6" y2="332" stroke="#A4A4A4" stroke-width="1"/>
<line x1="347" y1="329" x2="347" y2="332" stroke="#A4A4A4" stroke-width="1"/>
<polygon points="227.6,259.0 240.0,262.5 251.4,264.0 263.0,262.5 275.4,259.0 299.0,253.0 319.8,248.4 319.8,326.6 299.0,312.0 287.0,304.0 275.4,297.0 263.0,291.0 251.4,287.0 240.0,284.0 227.6,282.0" fill="#F4D6D8"/>
<line x1="224.4" y1="210" x2="227.4" y2="210" stroke="#A4A4A4" stroke-width="1"/>
<text transform="translate(221.30,213.55) scale(1.0,1)" font-size="10.0" text-anchor="end" fill="#262626" stroke="#262626" stroke-width="0.2" font-weight="normal" letter-spacing="-0.3">1.5</text>
<line x1="224.4" y1="249.6" x2="227.4" y2="249.6" stroke="#A4A4A4" stroke-width="1"/>
<text transform="translate(221.30,253.15) scale(1.0,1)" font-size="10.0" text-anchor="end" fill="#262626" stroke="#262626" stroke-width="0.2" font-weight="normal" letter-spacing="-0.3">1.0</text>
<line x1="224.4" y1="289.2" x2="227.4" y2="289.2" stroke="#A4A4A4" stroke-width="1"/>
<text transform="translate(221.30,292.75) scale(1.0,1)" font-size="10.0" text-anchor="end" fill="#262626" stroke="#262626" stroke-width="0.2" font-weight="normal" letter-spacing="-0.3">0.5</text>
<line x1="224.4" y1="329" x2="227.4" y2="329" stroke="#A4A4A4" stroke-width="1"/>
<text transform="translate(221.30,332.55) scale(1.0,1)" font-size="10.0" text-anchor="end" fill="#262626" stroke="#262626" stroke-width="0.2" font-weight="normal" letter-spacing="-0.3">0.0</text>
<text transform="translate(226.70,344.10) scale(1.0,1)" font-size="10.0" text-anchor="middle" fill="#262626" stroke="#262626" stroke-width="0.2" font-weight="normal" letter-spacing="-0.3">0</text>
<text transform="translate(250.70,344.10) scale(1.0,1)" font-size="10.0" text-anchor="middle" fill="#262626" stroke="#262626" stroke-width="0.2" font-weight="normal" letter-spacing="-0.3">100</text>
<text transform="translate(274.70,344.10) scale(1.0,1)" font-size="10.0" text-anchor="middle" fill="#262626" stroke="#262626" stroke-width="0.2" font-weight="normal" letter-spacing="-0.3">200</text>
<text transform="translate(298.30,344.10) scale(1.0,1)" font-size="10.0" text-anchor="middle" fill="#262626" stroke="#262626" stroke-width="0.2" font-weight="normal" letter-spacing="-0.3">300</text>
<text transform="translate(321.90,344.10) scale(1.0,1)" font-size="10.0" text-anchor="middle" fill="#262626" stroke="#262626" stroke-width="0.2" font-weight="normal" letter-spacing="-0.3">400</text>
<text transform="translate(346.30,344.10) scale(1.0,1)" font-size="10.0" text-anchor="middle" fill="#262626" stroke="#262626" stroke-width="0.2" font-weight="normal" letter-spacing="-0.3">500</text>
<line x1="227.6" y1="271" x2="319.8" y2="287.5" stroke="#C5646D" stroke-width="1.1"/>
<circle cx="227.6" cy="225.6" r="2.0" fill="#D07A84" stroke="#BE5F6A" stroke-width="0.8"/>
<circle cx="227.6" cy="232.4" r="2.0" fill="#D07A84" stroke="#BE5F6A" stroke-width="0.8"/>
<circle cx="228.0" cy="241.2" r="2.0" fill="#D07A84" stroke="#BE5F6A" stroke-width="0.8"/>
<circle cx="230.6" cy="242.2" r="2.0" fill="#D07A84" stroke="#BE5F6A" stroke-width="0.8"/>
<circle cx="234.4" cy="241.4" r="2.0" fill="#D07A84" stroke="#BE5F6A" stroke-width="0.8"/>
<circle cx="240.2" cy="238.8" r="2.0" fill="#D07A84" stroke="#BE5F6A" stroke-width="0.8"/>
<circle cx="227.6" cy="248.0" r="2.0" fill="#D07A84" stroke="#BE5F6A" stroke-width="0.8"/>
<circle cx="227.6" cy="250.4" r="2.0" fill="#D07A84" stroke="#BE5F6A" stroke-width="0.8"/>
<circle cx="227.6" cy="253.2" r="2.0" fill="#D07A84" stroke="#BE5F6A" stroke-width="0.8"/>
<circle cx="232.6" cy="257.0" r="2.0" fill="#D07A84" stroke="#BE5F6A" stroke-width="0.8"/>
<circle cx="234.0" cy="263.0" r="2.0" fill="#D07A84" stroke="#BE5F6A" stroke-width="0.8"/>
<circle cx="227.6" cy="265.0" r="2.0" fill="#D07A84" stroke="#BE5F6A" stroke-width="0.8"/>
<circle cx="227.6" cy="267.0" r="2.0" fill="#D07A84" stroke="#BE5F6A" stroke-width="0.8"/>
<circle cx="227.6" cy="269.2" r="2.0" fill="#D07A84" stroke="#BE5F6A" stroke-width="0.8"/>
<circle cx="246.4" cy="266.4" r="2.0" fill="#D07A84" stroke="#BE5F6A" stroke-width="0.8"/>
<circle cx="285.4" cy="266.4" r="2.0" fill="#D07A84" stroke="#BE5F6A" stroke-width="0.8"/>
<circle cx="319.8" cy="272.6" r="2.0" fill="#D07A84" stroke="#BE5F6A" stroke-width="0.8"/>
<circle cx="276.6" cy="275.0" r="2.0" fill="#D07A84" stroke="#BE5F6A" stroke-width="0.8"/>
<circle cx="260.8" cy="276.6" r="2.0" fill="#D07A84" stroke="#BE5F6A" stroke-width="0.8"/>
<circle cx="227.6" cy="286.7" r="2.0" fill="#D07A84" stroke="#BE5F6A" stroke-width="0.8"/>
<circle cx="241.2" cy="294.2" r="2.0" fill="#D07A84" stroke="#BE5F6A" stroke-width="0.8"/>
<circle cx="229.0" cy="298.9" r="2.0" fill="#D07A84" stroke="#BE5F6A" stroke-width="0.8"/>
<circle cx="235.6" cy="298.1" r="2.0" fill="#D07A84" stroke="#BE5F6A" stroke-width="0.8"/>
<circle cx="239.0" cy="300.0" r="2.0" fill="#D07A84" stroke="#BE5F6A" stroke-width="0.8"/>
<circle cx="233.0" cy="302.0" r="2.0" fill="#D07A84" stroke="#BE5F6A" stroke-width="0.8"/>
<circle cx="250.0" cy="302.8" r="2.0" fill="#D07A84" stroke="#BE5F6A" stroke-width="0.8"/>
<circle cx="227.6" cy="307.8" r="2.0" fill="#D07A84" stroke="#BE5F6A" stroke-width="0.8"/>
<circle cx="230.6" cy="308.2" r="2.0" fill="#D07A84" stroke="#BE5F6A" stroke-width="0.8"/>
<circle cx="275.4" cy="314.0" r="2.0" fill="#D07A84" stroke="#BE5F6A" stroke-width="0.8"/>
<circle cx="229.4" cy="315.8" r="2.0" fill="#D07A84" stroke="#BE5F6A" stroke-width="0.8"/>
<text transform="translate(275.00,202.00) scale(1.0,1)" font-size="11.5" text-anchor="middle" fill="#262626" stroke="#262626" stroke-width="0.2" font-weight="normal" letter-spacing="-0.3">3O</text>
<text x="235.6" y="218" font-size="10.0" fill="#C9626B" textLength="87.4" lengthAdjust="spacing">R<tspan dy="-3.7" dx="1.0" font-size="10.6">2</tspan><tspan dy="3.7" dx="1.2">=0.021,&#160;</tspan><tspan font-size="5.6" dy="-4.1">NS</tspan><tspan dy="4.1">p=0.47</tspan></text>
<text x="284.8" y="359.30" font-size="10.0" text-anchor="middle" fill="#262626" stroke="#262626" stroke-width="0.2" textLength="91.6" lengthAdjust="spacing">Maternal IL-23 (pg/ml)</text>
<text transform="translate(204.80,274.20) rotate(-90)" font-size="10.0" text-anchor="middle" fill="#262626" stroke="#262626" stroke-width="0.2" textLength="155.6" lengthAdjust="spacing">Maternal αRBD IgG OD450nm (AU)</text>
<text x="182" y="190.8" font-size="13" font-weight="bold" fill="#000">F</text>
<line x1="398.4" y1="238" x2="517.6" y2="238" stroke="#979797" stroke-width="0.85"/>
<line x1="398.4" y1="261.7" x2="517.6" y2="261.7" stroke="#979797" stroke-width="0.85"/>
<line x1="398.4" y1="285.4" x2="517.6" y2="285.4" stroke="#979797" stroke-width="0.85"/>
<line x1="438.2" y1="213.2" x2="438.2" y2="333" stroke="#979797" stroke-width="0.85"/>
<line x1="477.8" y1="213.2" x2="477.8" y2="333" stroke="#979797" stroke-width="0.85"/>
<line x1="398.4" y1="214.2" x2="398.4" y2="333" stroke="#A4A4A4" stroke-width="1"/>
<line x1="398.4" y1="309.2" x2="517.6" y2="309.2" stroke="#A4A4A4" stroke-width="1"/>
<line x1="438.2" y1="309.2" x2="438.2" y2="312.2" stroke="#A4A4A4" stroke-width="1"/>
<line x1="477.8" y1="309.2" x2="477.8" y2="312.2" stroke="#A4A4A4" stroke-width="1"/>
<line x1="517.6" y1="309.2" x2="517.6" y2="312.2" stroke="#A4A4A4" stroke-width="1"/>
<polygon points="398.4,286.0 420.0,286.3 438.2,285.0 458.0,280.7 477.8,276.0 504.0,269.0 504.0,329.0 477.8,321.0 458.0,315.0 438.2,309.0 420.0,305.4 398.4,304.0" fill="#F4D6D8"/>
<line x1="395.4" y1="214.2" x2="398.4" y2="214.2" stroke="#A4A4A4" stroke-width="1"/>
<text transform="translate(392.50,217.75) scale(1.0,1)" font-size="10.0" text-anchor="end" fill="#262626" stroke="#262626" stroke-width="0.2" font-weight="normal" letter-spacing="-0.3">800</text>
<line x1="395.4" y1="238" x2="398.4" y2="238" stroke="#A4A4A4" stroke-width="1"/>
<text transform="translate(392.50,241.55) scale(1.0,1)" font-size="10.0" text-anchor="end" fill="#262626" stroke="#262626" stroke-width="0.2" font-weight="normal" letter-spacing="-0.3">600</text>
<line x1="395.4" y1="261.7" x2="398.4" y2="261.7" stroke="#A4A4A4" stroke-width="1"/>
<text transform="translate(392.50,265.25) scale(1.0,1)" font-size="10.0" text-anchor="end" fill="#262626" stroke="#262626" stroke-width="0.2" font-weight="normal" letter-spacing="-0.3">400</text>
<line x1="395.4" y1="285.4" x2="398.4" y2="285.4" stroke="#A4A4A4" stroke-width="1"/>
<text transform="translate(392.50,288.95) scale(1.0,1)" font-size="10.0" text-anchor="end" fill="#262626" stroke="#262626" stroke-width="0.2" font-weight="normal" letter-spacing="-0.3">200</text>
<line x1="395.4" y1="309.2" x2="398.4" y2="309.2" stroke="#A4A4A4" stroke-width="1"/>
<text transform="translate(392.50,312.75) scale(1.0,1)" font-size="10.0" text-anchor="end" fill="#262626" stroke="#262626" stroke-width="0.2" font-weight="normal" letter-spacing="-0.3">0</text>
<line x1="395.4" y1="333" x2="398.4" y2="333" stroke="#A4A4A4" stroke-width="1"/>
<text transform="translate(392.50,336.55) scale(1.0,1)" font-size="10.0" text-anchor="end" fill="#262626" stroke="#262626" stroke-width="0.2" font-weight="normal" letter-spacing="-0.3">-200</text>
<text transform="translate(437.30,345.00) scale(1.0,1)" font-size="10.0" text-anchor="middle" fill="#262626" stroke="#262626" stroke-width="0.2" font-weight="normal" letter-spacing="-0.3">200</text>
<text transform="translate(476.90,345.00) scale(1.0,1)" font-size="10.0" text-anchor="middle" fill="#262626" stroke="#262626" stroke-width="0.2" font-weight="normal" letter-spacing="-0.3">400</text>
<text transform="translate(516.70,345.00) scale(1.0,1)" font-size="10.0" text-anchor="middle" fill="#262626" stroke="#262626" stroke-width="0.2" font-weight="normal" letter-spacing="-0.3">600</text>
<line x1="398.4" y1="295.4" x2="504" y2="298.6" stroke="#C5646D" stroke-width="1.1"/>
<circle cx="410.3" cy="219.3" r="2.0" fill="#D07A84" stroke="#BE5F6A" stroke-width="0.8"/>
<circle cx="399.6" cy="267.0" r="2.0" fill="#D07A84" stroke="#BE5F6A" stroke-width="0.8"/>
<circle cx="398.6" cy="281.8" r="2.0" fill="#D07A84" stroke="#BE5F6A" stroke-width="0.8"/>
<circle cx="399.0" cy="288.0" r="2.0" fill="#D07A84" stroke="#BE5F6A" stroke-width="0.8"/>
<circle cx="404.2" cy="291.8" r="2.0" fill="#D07A84" stroke="#BE5F6A" stroke-width="0.8"/>
<circle cx="485.2" cy="291.2" r="2.0" fill="#D07A84" stroke="#BE5F6A" stroke-width="0.8"/>
<circle cx="416.0" cy="296.6" r="2.0" fill="#D07A84" stroke="#BE5F6A" stroke-width="0.8"/>
<circle cx="423.4" cy="295.0" r="2.0" fill="#D07A84" stroke="#BE5F6A" stroke-width="0.8"/>
<circle cx="427.0" cy="298.0" r="2.0" fill="#D07A84" stroke="#BE5F6A" stroke-width="0.8"/>
<circle cx="437.6" cy="298.6" r="2.0" fill="#D07A84" stroke="#BE5F6A" stroke-width="0.8"/>
<circle cx="504.4" cy="306.8" r="2.0" fill="#D07A84" stroke="#BE5F6A" stroke-width="0.8"/>
<circle cx="399.4" cy="301.6" r="2.0" fill="#D07A84" stroke="#BE5F6A" stroke-width="0.8"/>
<circle cx="402.0" cy="303.6" r="2.0" fill="#D07A84" stroke="#BE5F6A" stroke-width="0.8"/>
<circle cx="404.0" cy="305.0" r="2.0" fill="#D07A84" stroke="#BE5F6A" stroke-width="0.8"/>
<circle cx="404.4" cy="307.0" r="2.0" fill="#D07A84" stroke="#BE5F6A" stroke-width="0.8"/>
<circle cx="414.6" cy="303.6" r="2.0" fill="#D07A84" stroke="#BE5F6A" stroke-width="0.8"/>
<circle cx="413.0" cy="305.6" r="2.0" fill="#D07A84" stroke="#BE5F6A" stroke-width="0.8"/>
<circle cx="411.0" cy="307.4" r="2.0" fill="#D07A84" stroke="#BE5F6A" stroke-width="0.8"/>
<circle cx="398.6" cy="307.0" r="2.0" fill="#D07A84" stroke="#BE5F6A" stroke-width="0.8"/>
<circle cx="400.6" cy="307.6" r="2.0" fill="#D07A84" stroke="#BE5F6A" stroke-width="0.8"/>
<circle cx="402.6" cy="307.6" r="2.0" fill="#D07A84" stroke="#BE5F6A" stroke-width="0.8"/>
<text transform="translate(451.00,201.00) scale(1.0,1)" font-size="11.5" text-anchor="middle" fill="#262626" stroke="#262626" stroke-width="0.2" font-weight="normal" letter-spacing="-0.3">3O</text>
<text x="406.2" y="215" font-size="10.0" fill="#C9626B" textLength="93.0" lengthAdjust="spacing">R<tspan dy="-3.7" dx="1.0" font-size="10.6">2</tspan><tspan dy="3.7" dx="1.2">=0.0021,&#160;</tspan><tspan font-size="5.6" dy="-4.1">NS</tspan><tspan dy="4.1">p=0.43</tspan></text>
<text x="458.5" y="357.30" font-size="10.0" text-anchor="middle" fill="#262626" stroke="#262626" stroke-width="0.2" textLength="86" lengthAdjust="spacing">Maternal IL-6 (pg/ml)</text>
<text transform="translate(370.60,272.00) rotate(-90)" font-size="10.0" text-anchor="middle" fill="#262626" stroke="#262626" stroke-width="0.2" textLength="58.6" lengthAdjust="spacing">Maternal NT<tspan font-size="7" dy="1.8">50</tspan></text>
<text x="350.4" y="190.8" font-size="13" font-weight="bold" fill="#000">G</text>
<line x1="574.6" y1="237.5" x2="693.4" y2="237.5" stroke="#979797" stroke-width="0.85"/>
<line x1="574.6" y1="261.2" x2="693.4" y2="261.2" stroke="#979797" stroke-width="0.85"/>
<line x1="574.6" y1="285" x2="693.4" y2="285" stroke="#979797" stroke-width="0.85"/>
<line x1="604.4" y1="212.7" x2="604.4" y2="332.5" stroke="#979797" stroke-width="0.85"/>
<line x1="634" y1="212.7" x2="634" y2="332.5" stroke="#979797" stroke-width="0.85"/>
<line x1="663.6" y1="212.7" x2="663.6" y2="332.5" stroke="#979797" stroke-width="0.85"/>
<line x1="574.6" y1="213.7" x2="574.6" y2="332.5" stroke="#A4A4A4" stroke-width="1"/>
<line x1="574.6" y1="308.8" x2="693.4" y2="308.8" stroke="#A4A4A4" stroke-width="1"/>
<line x1="604.4" y1="308.8" x2="604.4" y2="311.8" stroke="#A4A4A4" stroke-width="1"/>
<line x1="634" y1="308.8" x2="634" y2="311.8" stroke="#A4A4A4" stroke-width="1"/>
<line x1="663.6" y1="308.8" x2="663.6" y2="311.8" stroke="#A4A4A4" stroke-width="1"/>
<line x1="693.4" y1="308.8" x2="693.4" y2="311.8" stroke="#A4A4A4" stroke-width="1"/>
<polygon points="574.6,281.0 590.0,285.6 604.4,287.4 620.0,287.0 634.0,285.6 663.6,280.0 685.0,276.6 685.0,327.0 663.6,320.0 648.0,314.2 634.0,308.8 620.0,305.8 604.4,304.3 590.0,304.2 574.6,305.0" fill="#F4D6D8"/>
<line x1="571.6" y1="213.7" x2="574.6" y2="213.7" stroke="#A4A4A4" stroke-width="1"/>
<text transform="translate(569.80,217.25) scale(1.0,1)" font-size="10.0" text-anchor="end" fill="#262626" stroke="#262626" stroke-width="0.2" font-weight="normal" letter-spacing="-0.3">800</text>
<line x1="571.6" y1="237.5" x2="574.6" y2="237.5" stroke="#A4A4A4" stroke-width="1"/>
<text transform="translate(569.80,241.05) scale(1.0,1)" font-size="10.0" text-anchor="end" fill="#262626" stroke="#262626" stroke-width="0.2" font-weight="normal" letter-spacing="-0.3">600</text>
<line x1="571.6" y1="261.2" x2="574.6" y2="261.2" stroke="#A4A4A4" stroke-width="1"/>
<text transform="translate(569.80,264.75) scale(1.0,1)" font-size="10.0" text-anchor="end" fill="#262626" stroke="#262626" stroke-width="0.2" font-weight="normal" letter-spacing="-0.3">400</text>
<line x1="571.6" y1="285" x2="574.6" y2="285" stroke="#A4A4A4" stroke-width="1"/>
<text transform="translate(569.80,288.55) scale(1.0,1)" font-size="10.0" text-anchor="end" fill="#262626" stroke="#262626" stroke-width="0.2" font-weight="normal" letter-spacing="-0.3">200</text>
<line x1="571.6" y1="308.8" x2="574.6" y2="308.8" stroke="#A4A4A4" stroke-width="1"/>
<text transform="translate(569.80,312.35) scale(1.0,1)" font-size="10.0" text-anchor="end" fill="#262626" stroke="#262626" stroke-width="0.2" font-weight="normal" letter-spacing="-0.3">0</text>
<line x1="571.6" y1="332.5" x2="574.6" y2="332.5" stroke="#A4A4A4" stroke-width="1"/>
<text transform="translate(569.80,336.05) scale(1.0,1)" font-size="10.0" text-anchor="end" fill="#262626" stroke="#262626" stroke-width="0.2" font-weight="normal" letter-spacing="-0.3">-200</text>
<text transform="translate(601.40,343.00) scale(1.0,1)" font-size="10.0" text-anchor="middle" fill="#262626" stroke="#262626" stroke-width="0.2" font-weight="normal" letter-spacing="-0.3">20</text>
<text transform="translate(631.00,343.00) scale(1.0,1)" font-size="10.0" text-anchor="middle" fill="#262626" stroke="#262626" stroke-width="0.2" font-weight="normal" letter-spacing="-0.3">40</text>
<text transform="translate(660.60,343.00) scale(1.0,1)" font-size="10.0" text-anchor="middle" fill="#262626" stroke="#262626" stroke-width="0.2" font-weight="normal" letter-spacing="-0.3">60</text>
<text transform="translate(690.40,343.00) scale(1.0,1)" font-size="10.0" text-anchor="middle" fill="#262626" stroke="#262626" stroke-width="0.2" font-weight="normal" letter-spacing="-0.3">80</text>
<line x1="574.6" y1="293" x2="685" y2="301.8" stroke="#C5646D" stroke-width="1.1"/>
<circle cx="588.3" cy="218.8" r="2.0" fill="#D07A84" stroke="#BE5F6A" stroke-width="0.8"/>
<circle cx="620.8" cy="266.7" r="2.0" fill="#D07A84" stroke="#BE5F6A" stroke-width="0.8"/>
<circle cx="574.6" cy="281.6" r="2.0" fill="#D07A84" stroke="#BE5F6A" stroke-width="0.8"/>
<circle cx="587.2" cy="287.6" r="2.0" fill="#D07A84" stroke="#BE5F6A" stroke-width="0.8"/>
<circle cx="594.0" cy="290.6" r="2.0" fill="#D07A84" stroke="#BE5F6A" stroke-width="0.8"/>
<circle cx="597.6" cy="291.2" r="2.0" fill="#D07A84" stroke="#BE5F6A" stroke-width="0.8"/>
<circle cx="577.2" cy="294.6" r="2.0" fill="#D07A84" stroke="#BE5F6A" stroke-width="0.8"/>
<circle cx="591.6" cy="297.6" r="2.0" fill="#D07A84" stroke="#BE5F6A" stroke-width="0.8"/>
<circle cx="637.6" cy="298.4" r="2.0" fill="#D07A84" stroke="#BE5F6A" stroke-width="0.8"/>
<circle cx="685.4" cy="296.4" r="2.0" fill="#D07A84" stroke="#BE5F6A" stroke-width="0.8"/>
<circle cx="610.0" cy="301.2" r="2.0" fill="#D07A84" stroke="#BE5F6A" stroke-width="0.8"/>
<circle cx="613.0" cy="302.8" r="2.0" fill="#D07A84" stroke="#BE5F6A" stroke-width="0.8"/>
<circle cx="578.6" cy="303.2" r="2.0" fill="#D07A84" stroke="#BE5F6A" stroke-width="0.8"/>
<circle cx="574.6" cy="306.6" r="2.0" fill="#D07A84" stroke="#BE5F6A" stroke-width="0.8"/>
<circle cx="576.4" cy="306.8" r="2.0" fill="#D07A84" stroke="#BE5F6A" stroke-width="0.8"/>
<circle cx="594.4" cy="306.6" r="2.0" fill="#D07A84" stroke="#BE5F6A" stroke-width="0.8"/>
<circle cx="602.4" cy="306.2" r="2.0" fill="#D07A84" stroke="#BE5F6A" stroke-width="0.8"/>
<circle cx="607.6" cy="306.6" r="2.0" fill="#D07A84" stroke="#BE5F6A" stroke-width="0.8"/>
<circle cx="615.4" cy="307.0" r="2.0" fill="#D07A84" stroke="#BE5F6A" stroke-width="0.8"/>
<circle cx="641.0" cy="305.8" r="2.0" fill="#D07A84" stroke="#BE5F6A" stroke-width="0.8"/>
<circle cx="667.8" cy="306.0" r="2.0" fill="#D07A84" stroke="#BE5F6A" stroke-width="0.8"/>
<text transform="translate(631.30,200.50) scale(1.0,1)" font-size="11.5" text-anchor="middle" fill="#262626" stroke="#262626" stroke-width="0.2" font-weight="normal" letter-spacing="-0.3">3O</text>
<text x="582.5" y="214.5" font-size="10.0" fill="#C9626B" textLength="89.5" lengthAdjust="spacing">R<tspan dy="-3.7" dx="1.0" font-size="10.6">2</tspan><tspan dy="3.7" dx="1.2">=0.015,&#160;</tspan><tspan font-size="5.6" dy="-4.1">NS</tspan><tspan dy="4.1">&#160;p=0.93</tspan></text>
<text x="640.5" y="359.30" font-size="10.0" text-anchor="middle" fill="#262626" stroke="#262626" stroke-width="0.2" textLength="91.6" lengthAdjust="spacing">Maternal IL-10 (pg/ml)</text>
<text transform="translate(545.40,262.50) rotate(-90)" font-size="10.0" text-anchor="middle" fill="#262626" stroke="#262626" stroke-width="0.2" textLength="57.5" lengthAdjust="spacing">Maternal NT<tspan font-size="7" dy="1.8">50</tspan></text>
<text x="527" y="190.8" font-size="13" font-weight="bold" fill="#000">H</text>
<line x1="48.6" y1="450" x2="167.6" y2="450" stroke="#979797" stroke-width="0.85"/>
<line x1="72.6" y1="409.7" x2="72.6" y2="528.7" stroke="#979797" stroke-width="0.85"/>
<line x1="96.4" y1="409.7" x2="96.4" y2="528.7" stroke="#979797" stroke-width="0.85"/>
<line x1="120.2" y1="409.7" x2="120.2" y2="528.7" stroke="#979797" stroke-width="0.85"/>
<line x1="144" y1="409.7" x2="144" y2="528.7" stroke="#979797" stroke-width="0.85"/>
<line x1="48.6" y1="410.7" x2="48.6" y2="528.7" stroke="#A4A4A4" stroke-width="1"/>
<line x1="48.6" y1="489.3" x2="167.6" y2="489.3" stroke="#A4A4A4" stroke-width="1"/>
<line x1="72.6" y1="489.3" x2="72.6" y2="492.3" stroke="#A4A4A4" stroke-width="1"/>
<line x1="96.4" y1="489.3" x2="96.4" y2="492.3" stroke="#A4A4A4" stroke-width="1"/>
<line x1="120.2" y1="489.3" x2="120.2" y2="492.3" stroke="#A4A4A4" stroke-width="1"/>
<line x1="144" y1="489.3" x2="144" y2="492.3" stroke="#A4A4A4" stroke-width="1"/>
<line x1="167.6" y1="489.3" x2="167.6" y2="492.3" stroke="#A4A4A4" stroke-width="1"/>
<polygon points="48.6,473.0 60.0,475.0 72.6,476.0 84.0,476.2 96.4,475.6 120.2,473.0 140.8,470.4 140.8,508.0 120.2,501.0 108.0,496.6 96.4,493.0 84.0,489.6 72.6,487.6 60.0,487.0 48.6,487.0" fill="#F4D6D8"/>
<line x1="45.6" y1="410.7" x2="48.6" y2="410.7" stroke="#A4A4A4" stroke-width="1"/>
<text transform="translate(43.40,414.25) scale(1.0,1)" font-size="10.0" text-anchor="end" fill="#262626" stroke="#262626" stroke-width="0.2" font-weight="normal" letter-spacing="-0.3">1000</text>
<line x1="45.6" y1="450" x2="48.6" y2="450" stroke="#A4A4A4" stroke-width="1"/>
<text transform="translate(43.40,453.55) scale(1.0,1)" font-size="10.0" text-anchor="end" fill="#262626" stroke="#262626" stroke-width="0.2" font-weight="normal" letter-spacing="-0.3">500</text>
<line x1="45.6" y1="489.3" x2="48.6" y2="489.3" stroke="#A4A4A4" stroke-width="1"/>
<text transform="translate(43.40,492.85) scale(1.0,1)" font-size="10.0" text-anchor="end" fill="#262626" stroke="#262626" stroke-width="0.2" font-weight="normal" letter-spacing="-0.3">0</text>
<line x1="45.6" y1="528.7" x2="48.6" y2="528.7" stroke="#A4A4A4" stroke-width="1"/>
<text transform="translate(43.40,532.25) scale(1.0,1)" font-size="10.0" text-anchor="end" fill="#262626" stroke="#262626" stroke-width="0.2" font-weight="normal" letter-spacing="-0.3">-500</text>
<text transform="translate(70.10,541.50) scale(1.0,1)" font-size="10.0" text-anchor="middle" fill="#262626" stroke="#262626" stroke-width="0.2" font-weight="normal" letter-spacing="-0.3">100</text>
<text transform="translate(93.90,541.50) scale(1.0,1)" font-size="10.0" text-anchor="middle" fill="#262626" stroke="#262626" stroke-width="0.2" font-weight="normal" letter-spacing="-0.3">200</text>
<text transform="translate(117.70,541.50) scale(1.0,1)" font-size="10.0" text-anchor="middle" fill="#262626" stroke="#262626" stroke-width="0.2" font-weight="normal" letter-spacing="-0.3">300</text>
<text transform="translate(141.50,541.50) scale(1.0,1)" font-size="10.0" text-anchor="middle" fill="#262626" stroke="#262626" stroke-width="0.2" font-weight="normal" letter-spacing="-0.3">400</text>
<text transform="translate(165.10,541.50) scale(1.0,1)" font-size="10.0" text-anchor="middle" fill="#262626" stroke="#262626" stroke-width="0.2" font-weight="normal" letter-spacing="-0.3">500</text>
<line x1="48.6" y1="479" x2="140.8" y2="488.6" stroke="#C5646D" stroke-width="1.1"/>
<circle cx="55.5" cy="429.5" r="2.0" fill="#D07A84" stroke="#BE5F6A" stroke-width="0.8"/>
<circle cx="48.8" cy="461.4" r="2.0" fill="#D07A84" stroke="#BE5F6A" stroke-width="0.8"/>
<circle cx="48.8" cy="471.4" r="2.0" fill="#D07A84" stroke="#BE5F6A" stroke-width="0.8"/>
<circle cx="54.0" cy="475.4" r="2.0" fill="#D07A84" stroke="#BE5F6A" stroke-width="0.8"/>
<circle cx="48.8" cy="477.6" r="2.0" fill="#D07A84" stroke="#BE5F6A" stroke-width="0.8"/>
<circle cx="61.4" cy="477.8" r="2.0" fill="#D07A84" stroke="#BE5F6A" stroke-width="0.8"/>
<circle cx="50.0" cy="480.0" r="2.0" fill="#D07A84" stroke="#BE5F6A" stroke-width="0.8"/>
<circle cx="96.4" cy="482.4" r="2.0" fill="#D07A84" stroke="#BE5F6A" stroke-width="0.8"/>
<circle cx="106.6" cy="481.2" r="2.0" fill="#D07A84" stroke="#BE5F6A" stroke-width="0.8"/>
<circle cx="55.0" cy="484.4" r="2.0" fill="#D07A84" stroke="#BE5F6A" stroke-width="0.8"/>
<circle cx="70.6" cy="485.8" r="2.0" fill="#D07A84" stroke="#BE5F6A" stroke-width="0.8"/>
<circle cx="68.0" cy="487.4" r="2.0" fill="#D07A84" stroke="#BE5F6A" stroke-width="0.8"/>
<circle cx="48.8" cy="486.6" r="2.0" fill="#D07A84" stroke="#BE5F6A" stroke-width="0.8"/>
<circle cx="51.4" cy="487.6" r="2.0" fill="#D07A84" stroke="#BE5F6A" stroke-width="0.8"/>
<circle cx="49.0" cy="488.6" r="2.0" fill="#D07A84" stroke="#BE5F6A" stroke-width="0.8"/>
<circle cx="60.0" cy="487.8" r="2.0" fill="#D07A84" stroke="#BE5F6A" stroke-width="0.8"/>
<circle cx="62.4" cy="488.4" r="2.0" fill="#D07A84" stroke="#BE5F6A" stroke-width="0.8"/>
<circle cx="82.0" cy="488.4" r="2.0" fill="#D07A84" stroke="#BE5F6A" stroke-width="0.8"/>
<circle cx="97.8" cy="487.8" r="2.0" fill="#D07A84" stroke="#BE5F6A" stroke-width="0.8"/>
<circle cx="140.8" cy="487.6" r="2.0" fill="#D07A84" stroke="#BE5F6A" stroke-width="0.8"/>
<text transform="translate(96.30,401.50) scale(1.0,1)" font-size="11.5" text-anchor="middle" fill="#262626" stroke="#262626" stroke-width="0.2" font-weight="normal" letter-spacing="-0.3">3O</text>
<text x="57" y="419.2" font-size="10.0" fill="#C9626B" textLength="87.5" lengthAdjust="spacing">R<tspan dy="-3.7" dx="1.0" font-size="10.6">2</tspan><tspan dy="3.7" dx="1.2">=0.044,&#160;</tspan><tspan font-size="5.6" dy="-4.1">NS</tspan><tspan dy="4.1">p=0.43</tspan></text>
<text x="105" y="555.00" font-size="10.0" text-anchor="middle" fill="#262626" stroke="#262626" stroke-width="0.2" textLength="92" lengthAdjust="spacing">Maternal IL-23 (pg/ml)</text>
<text transform="translate(20.70,472.60) rotate(-90)" font-size="10.0" text-anchor="middle" fill="#262626" stroke="#262626" stroke-width="0.2" textLength="52.0" lengthAdjust="spacingAndGlyphs">Maternal NT<tspan font-size="7" dy="1.8">50</tspan></text>
<text x="3.0" y="383.7" font-size="13" font-weight="bold" fill="#000">I</text>
<line x1="234.2" y1="437.5" x2="352.8" y2="437.5" stroke="#979797" stroke-width="0.85"/>
<line x1="234.2" y1="461.2" x2="352.8" y2="461.2" stroke="#979797" stroke-width="0.85"/>
<line x1="234.2" y1="485" x2="352.8" y2="485" stroke="#979797" stroke-width="0.85"/>
<line x1="264" y1="413" x2="264" y2="532.3" stroke="#979797" stroke-width="0.85"/>
<line x1="293.6" y1="413" x2="293.6" y2="532.3" stroke="#979797" stroke-width="0.85"/>
<line x1="323.4" y1="413" x2="323.4" y2="532.3" stroke="#979797" stroke-width="0.85"/>
<line x1="234.2" y1="414" x2="234.2" y2="532.3" stroke="#A4A4A4" stroke-width="1"/>
<line x1="234.2" y1="508.6" x2="352.8" y2="508.6" stroke="#A4A4A4" stroke-width="1"/>
<line x1="264" y1="508.6" x2="264" y2="511.6" stroke="#A4A4A4" stroke-width="1"/>
<line x1="293.6" y1="508.6" x2="293.6" y2="511.6" stroke="#A4A4A4" stroke-width="1"/>
<line x1="323.4" y1="508.6" x2="323.4" y2="511.6" stroke="#A4A4A4" stroke-width="1"/>
<line x1="352.8" y1="508.6" x2="352.8" y2="511.6" stroke="#A4A4A4" stroke-width="1"/>
<polygon points="234.2,451.0 248.0,457.5 264.0,463.0 278.0,465.6 293.6,466.4 323.4,465.0 345.0,464.0 345.0,523.7 323.4,512.5 308.0,504.0 293.6,496.0 278.0,489.0 264.0,484.4 248.0,482.0 234.2,481.0" fill="#F4D6D8"/>
<line x1="231.2" y1="414" x2="234.2" y2="414" stroke="#A4A4A4" stroke-width="1"/>
<text transform="translate(227.40,417.55) scale(1.0,1)" font-size="10.0" text-anchor="end" fill="#262626" stroke="#262626" stroke-width="0.2" font-weight="normal" letter-spacing="-0.3">2.0</text>
<line x1="231.2" y1="437.5" x2="234.2" y2="437.5" stroke="#A4A4A4" stroke-width="1"/>
<text transform="translate(227.40,441.05) scale(1.0,1)" font-size="10.0" text-anchor="end" fill="#262626" stroke="#262626" stroke-width="0.2" font-weight="normal" letter-spacing="-0.3">1.5</text>
<line x1="231.2" y1="461.2" x2="234.2" y2="461.2" stroke="#A4A4A4" stroke-width="1"/>
<text transform="translate(227.40,464.75) scale(1.0,1)" font-size="10.0" text-anchor="end" fill="#262626" stroke="#262626" stroke-width="0.2" font-weight="normal" letter-spacing="-0.3">1.0</text>
<line x1="231.2" y1="485" x2="234.2" y2="485" stroke="#A4A4A4" stroke-width="1"/>
<text transform="translate(227.40,488.55) scale(1.0,1)" font-size="10.0" text-anchor="end" fill="#262626" stroke="#262626" stroke-width="0.2" font-weight="normal" letter-spacing="-0.3">0.5</text>
<line x1="231.2" y1="508.6" x2="234.2" y2="508.6" stroke="#A4A4A4" stroke-width="1"/>
<text transform="translate(227.40,512.15) scale(1.0,1)" font-size="10.0" text-anchor="end" fill="#262626" stroke="#262626" stroke-width="0.2" font-weight="normal" letter-spacing="-0.3">0.0</text>
<line x1="231.2" y1="532.3" x2="234.2" y2="532.3" stroke="#A4A4A4" stroke-width="1"/>
<text transform="translate(227.40,535.85) scale(1.0,1)" font-size="10.0" text-anchor="end" fill="#262626" stroke="#262626" stroke-width="0.2" font-weight="normal" letter-spacing="-0.3">-0.5</text>
<text transform="translate(262.80,544.00) scale(1.0,1)" font-size="10.0" text-anchor="middle" fill="#262626" stroke="#262626" stroke-width="0.2" font-weight="normal" letter-spacing="-0.3">20</text>
<text transform="translate(292.40,544.00) scale(1.0,1)" font-size="10.0" text-anchor="middle" fill="#262626" stroke="#262626" stroke-width="0.2" font-weight="normal" letter-spacing="-0.3">40</text>
<text transform="translate(322.20,544.00) scale(1.0,1)" font-size="10.0" text-anchor="middle" fill="#262626" stroke="#262626" stroke-width="0.2" font-weight="normal" letter-spacing="-0.3">60</text>
<text transform="translate(351.60,544.00) scale(1.0,1)" font-size="10.0" text-anchor="middle" fill="#262626" stroke="#262626" stroke-width="0.2" font-weight="normal" letter-spacing="-0.3">80</text>
<line x1="234.2" y1="465" x2="345" y2="494" stroke="#C5646D" stroke-width="1.1"/>
<circle cx="237.6" cy="420.0" r="2.0" fill="#D07A84" stroke="#BE5F6A" stroke-width="0.8"/>
<circle cx="236.6" cy="429.0" r="2.0" fill="#D07A84" stroke="#BE5F6A" stroke-width="0.8"/>
<circle cx="248.0" cy="462.8" r="2.0" fill="#D07A84" stroke="#BE5F6A" stroke-width="0.8"/>
<circle cx="254.0" cy="470.6" r="2.0" fill="#D07A84" stroke="#BE5F6A" stroke-width="0.8"/>
<circle cx="270.0" cy="469.6" r="2.0" fill="#D07A84" stroke="#BE5F6A" stroke-width="0.8"/>
<circle cx="345.0" cy="475.4" r="2.0" fill="#D07A84" stroke="#BE5F6A" stroke-width="0.8"/>
<circle cx="267.0" cy="477.4" r="2.0" fill="#D07A84" stroke="#BE5F6A" stroke-width="0.8"/>
<circle cx="280.6" cy="476.6" r="2.0" fill="#D07A84" stroke="#BE5F6A" stroke-width="0.8"/>
<circle cx="234.2" cy="481.0" r="2.0" fill="#D07A84" stroke="#BE5F6A" stroke-width="0.8"/>
<circle cx="234.2" cy="482.4" r="2.0" fill="#D07A84" stroke="#BE5F6A" stroke-width="0.8"/>
<circle cx="254.0" cy="483.2" r="2.0" fill="#D07A84" stroke="#BE5F6A" stroke-width="0.8"/>
<circle cx="257.0" cy="482.6" r="2.0" fill="#D07A84" stroke="#BE5F6A" stroke-width="0.8"/>
<circle cx="283.4" cy="482.8" r="2.0" fill="#D07A84" stroke="#BE5F6A" stroke-width="0.8"/>
<circle cx="300.8" cy="482.4" r="2.0" fill="#D07A84" stroke="#BE5F6A" stroke-width="0.8"/>
<circle cx="272.6" cy="485.6" r="2.0" fill="#D07A84" stroke="#BE5F6A" stroke-width="0.8"/>
<circle cx="259.0" cy="493.4" r="2.0" fill="#D07A84" stroke="#BE5F6A" stroke-width="0.8"/>
<circle cx="286.0" cy="492.8" r="2.0" fill="#D07A84" stroke="#BE5F6A" stroke-width="0.8"/>
<text transform="translate(285.00,402.00) scale(1.0,1)" font-size="11.5" text-anchor="middle" fill="#262626" stroke="#262626" stroke-width="0.2" font-weight="normal" letter-spacing="-0.3">3O</text>
<text x="241.6" y="415.6" font-size="10.0" fill="#C9626B" textLength="85.0" lengthAdjust="spacing">R<tspan dy="-3.7" dx="1.0" font-size="10.6">2</tspan><tspan dy="3.7" dx="1.2">&#160;=0.13,&#160;</tspan><tspan font-size="5.6" dy="-4.1">NS</tspan><tspan dy="4.1">p=0.18</tspan></text>
<text x="297.5" y="557.50" font-size="10.0" text-anchor="middle" fill="#262626" stroke="#262626" stroke-width="0.2" textLength="92" lengthAdjust="spacing">Maternal IL-10 (pg/ml)</text>
<text transform="translate(206.00,467.90) rotate(-90)" font-size="10.0" text-anchor="middle" fill="#262626" stroke="#262626" stroke-width="0.2" textLength="160.0" lengthAdjust="spacing">Maternal αSpike IgM OD450nm (AU)</text>
<text x="182.3" y="383.7" font-size="13" font-weight="bold" fill="#000">J</text>
<line x1="399.4" y1="438.2" x2="518.2" y2="438.2" stroke="#979797" stroke-width="0.85"/>
<line x1="399.4" y1="458.1" x2="518.2" y2="458.1" stroke="#979797" stroke-width="0.85"/>
<line x1="399.4" y1="477.9" x2="518.2" y2="477.9" stroke="#979797" stroke-width="0.85"/>
<line x1="399.4" y1="517.4" x2="518.2" y2="517.4" stroke="#979797" stroke-width="0.85"/>
<line x1="429" y1="417.6" x2="429" y2="537.1" stroke="#979797" stroke-width="0.85"/>
<line x1="458.8" y1="417.6" x2="458.8" y2="537.1" stroke="#979797" stroke-width="0.85"/>
<line x1="488.6" y1="417.6" x2="488.6" y2="537.1" stroke="#979797" stroke-width="0.85"/>
<line x1="399.4" y1="418.6" x2="399.4" y2="537.1" stroke="#A4A4A4" stroke-width="1"/>
<line x1="399.4" y1="497.6" x2="518.2" y2="497.6" stroke="#A4A4A4" stroke-width="1"/>
<line x1="429" y1="497.6" x2="429" y2="500.6" stroke="#A4A4A4" stroke-width="1"/>
<line x1="458.8" y1="497.6" x2="458.8" y2="500.6" stroke="#A4A4A4" stroke-width="1"/>
<line x1="488.6" y1="497.6" x2="488.6" y2="500.6" stroke="#A4A4A4" stroke-width="1"/>
<line x1="518.2" y1="497.6" x2="518.2" y2="500.6" stroke="#A4A4A4" stroke-width="1"/>
<polygon points="410.2,445.0 420.0,452.0 429.0,458.0 445.0,466.0 458.8,469.4 474.0,472.0 488.6,474.0 495.8,474.6 495.8,521.3 488.6,516.5 474.0,505.6 458.8,495.0 445.0,486.5 429.0,478.0 420.0,473.6 410.2,469.0" fill="#F4D6D8"/>
<line x1="396.4" y1="418.6" x2="399.4" y2="418.6" stroke="#A4A4A4" stroke-width="1"/>
<text transform="translate(392.50,422.15) scale(1.0,1)" font-size="10.0" text-anchor="end" fill="#262626" stroke="#262626" stroke-width="0.2" font-weight="normal" letter-spacing="-0.3">40</text>
<line x1="396.4" y1="438.2" x2="399.4" y2="438.2" stroke="#A4A4A4" stroke-width="1"/>
<text transform="translate(392.50,441.75) scale(1.0,1)" font-size="10.0" text-anchor="end" fill="#262626" stroke="#262626" stroke-width="0.2" font-weight="normal" letter-spacing="-0.3">30</text>
<line x1="396.4" y1="458.1" x2="399.4" y2="458.1" stroke="#A4A4A4" stroke-width="1"/>
<text transform="translate(392.50,461.65) scale(1.0,1)" font-size="10.0" text-anchor="end" fill="#262626" stroke="#262626" stroke-width="0.2" font-weight="normal" letter-spacing="-0.3">20</text>
<line x1="396.4" y1="477.9" x2="399.4" y2="477.9" stroke="#A4A4A4" stroke-width="1"/>
<text transform="translate(392.50,481.45) scale(1.0,1)" font-size="10.0" text-anchor="end" fill="#262626" stroke="#262626" stroke-width="0.2" font-weight="normal" letter-spacing="-0.3">10</text>
<line x1="396.4" y1="497.6" x2="399.4" y2="497.6" stroke="#A4A4A4" stroke-width="1"/>
<text transform="translate(392.50,501.15) scale(1.0,1)" font-size="10.0" text-anchor="end" fill="#262626" stroke="#262626" stroke-width="0.2" font-weight="normal" letter-spacing="-0.3">0</text>
<line x1="396.4" y1="517.4" x2="399.4" y2="517.4" stroke="#A4A4A4" stroke-width="1"/>
<text transform="translate(392.50,520.95) scale(1.0,1)" font-size="10.0" text-anchor="end" fill="#262626" stroke="#262626" stroke-width="0.2" font-weight="normal" letter-spacing="-0.3">-10</text>
<line x1="396.4" y1="537.1" x2="399.4" y2="537.1" stroke="#A4A4A4" stroke-width="1"/>
<text transform="translate(392.50,540.65) scale(1.0,1)" font-size="10.0" text-anchor="end" fill="#262626" stroke="#262626" stroke-width="0.2" font-weight="normal" letter-spacing="-0.3">-20</text>
<text transform="translate(427.80,548.00) scale(1.0,1)" font-size="10.0" text-anchor="middle" fill="#262626" stroke="#262626" stroke-width="0.2" font-weight="normal" letter-spacing="-0.3">5</text>
<text transform="translate(457.60,548.00) scale(1.0,1)" font-size="10.0" text-anchor="middle" fill="#262626" stroke="#262626" stroke-width="0.2" font-weight="normal" letter-spacing="-0.3">10</text>
<text transform="translate(487.40,548.00) scale(1.0,1)" font-size="10.0" text-anchor="middle" fill="#262626" stroke="#262626" stroke-width="0.2" font-weight="normal" letter-spacing="-0.3">15</text>
<text transform="translate(517.00,548.00) scale(1.0,1)" font-size="10.0" text-anchor="middle" fill="#262626" stroke="#262626" stroke-width="0.2" font-weight="normal" letter-spacing="-0.3">20</text>
<line x1="410.2" y1="459" x2="495.8" y2="498" stroke="#C5646D" stroke-width="1.1"/>
<circle cx="431.4" cy="429.2" r="2.0" fill="#D07A84" stroke="#BE5F6A" stroke-width="0.8"/>
<circle cx="434.8" cy="432.2" r="2.0" fill="#D07A84" stroke="#BE5F6A" stroke-width="0.8"/>
<circle cx="428.4" cy="436.2" r="2.0" fill="#D07A84" stroke="#BE5F6A" stroke-width="0.8"/>
<circle cx="415.2" cy="443.2" r="2.0" fill="#D07A84" stroke="#BE5F6A" stroke-width="0.8"/>
<circle cx="413.6" cy="453.0" r="2.0" fill="#D07A84" stroke="#BE5F6A" stroke-width="0.8"/>
<circle cx="415.4" cy="453.6" r="2.0" fill="#D07A84" stroke="#BE5F6A" stroke-width="0.8"/>
<circle cx="410.2" cy="460.0" r="2.0" fill="#D07A84" stroke="#BE5F6A" stroke-width="0.8"/>
<circle cx="436.0" cy="465.4" r="2.0" fill="#D07A84" stroke="#BE5F6A" stroke-width="0.8"/>
<circle cx="413.4" cy="467.4" r="2.0" fill="#D07A84" stroke="#BE5F6A" stroke-width="0.8"/>
<circle cx="414.6" cy="471.2" r="2.0" fill="#D07A84" stroke="#BE5F6A" stroke-width="0.8"/>
<circle cx="437.8" cy="474.8" r="2.0" fill="#D07A84" stroke="#BE5F6A" stroke-width="0.8"/>
<circle cx="442.6" cy="479.2" r="2.0" fill="#D07A84" stroke="#BE5F6A" stroke-width="0.8"/>
<circle cx="421.8" cy="481.0" r="2.0" fill="#D07A84" stroke="#BE5F6A" stroke-width="0.8"/>
<circle cx="432.6" cy="492.6" r="2.0" fill="#D07A84" stroke="#BE5F6A" stroke-width="0.8"/>
<circle cx="480.8" cy="492.8" r="2.0" fill="#D07A84" stroke="#BE5F6A" stroke-width="0.8"/>
<circle cx="495.8" cy="494.2" r="2.0" fill="#D07A84" stroke="#BE5F6A" stroke-width="0.8"/>
<circle cx="414.6" cy="497.8" r="2.0" fill="#D07A84" stroke="#BE5F6A" stroke-width="0.8"/>
<circle cx="456.0" cy="495.8" r="2.0" fill="#D07A84" stroke="#BE5F6A" stroke-width="0.8"/>
<circle cx="453.0" cy="497.8" r="2.0" fill="#D07A84" stroke="#BE5F6A" stroke-width="0.8"/>
<circle cx="495.8" cy="497.8" r="2.0" fill="#D07A84" stroke="#BE5F6A" stroke-width="0.8"/>
<text transform="translate(450.00,408.00) scale(1.0,1)" font-size="11.5" text-anchor="middle" fill="#262626" stroke="#262626" stroke-width="0.2" font-weight="normal" letter-spacing="-0.3">3O</text>
<text x="407" y="423.6" font-size="10.0" fill="#C9626B" textLength="83.4" lengthAdjust="spacing">R<tspan dy="-3.7" dx="1.0" font-size="10.6">2</tspan><tspan dy="3.7" dx="1.2">&#160;=0.29,&#160;</tspan>*p=0.022</text>
<text x="457.5" y="563.00" font-size="10.0" text-anchor="middle" fill="#262626" stroke="#262626" stroke-width="0.2" textLength="74" lengthAdjust="spacing">% Maternal CD56</text>
<text transform="translate(373.60,471.70) rotate(-90)" font-size="10.0" text-anchor="middle" fill="#262626" stroke="#262626" stroke-width="0.2" textLength="97.0" lengthAdjust="spacing">Maternal IL-10 (pg/mL)</text>
<text x="358.8" y="383.7" font-size="13" font-weight="bold" fill="#000">K</text>
</svg>
</body></html>
